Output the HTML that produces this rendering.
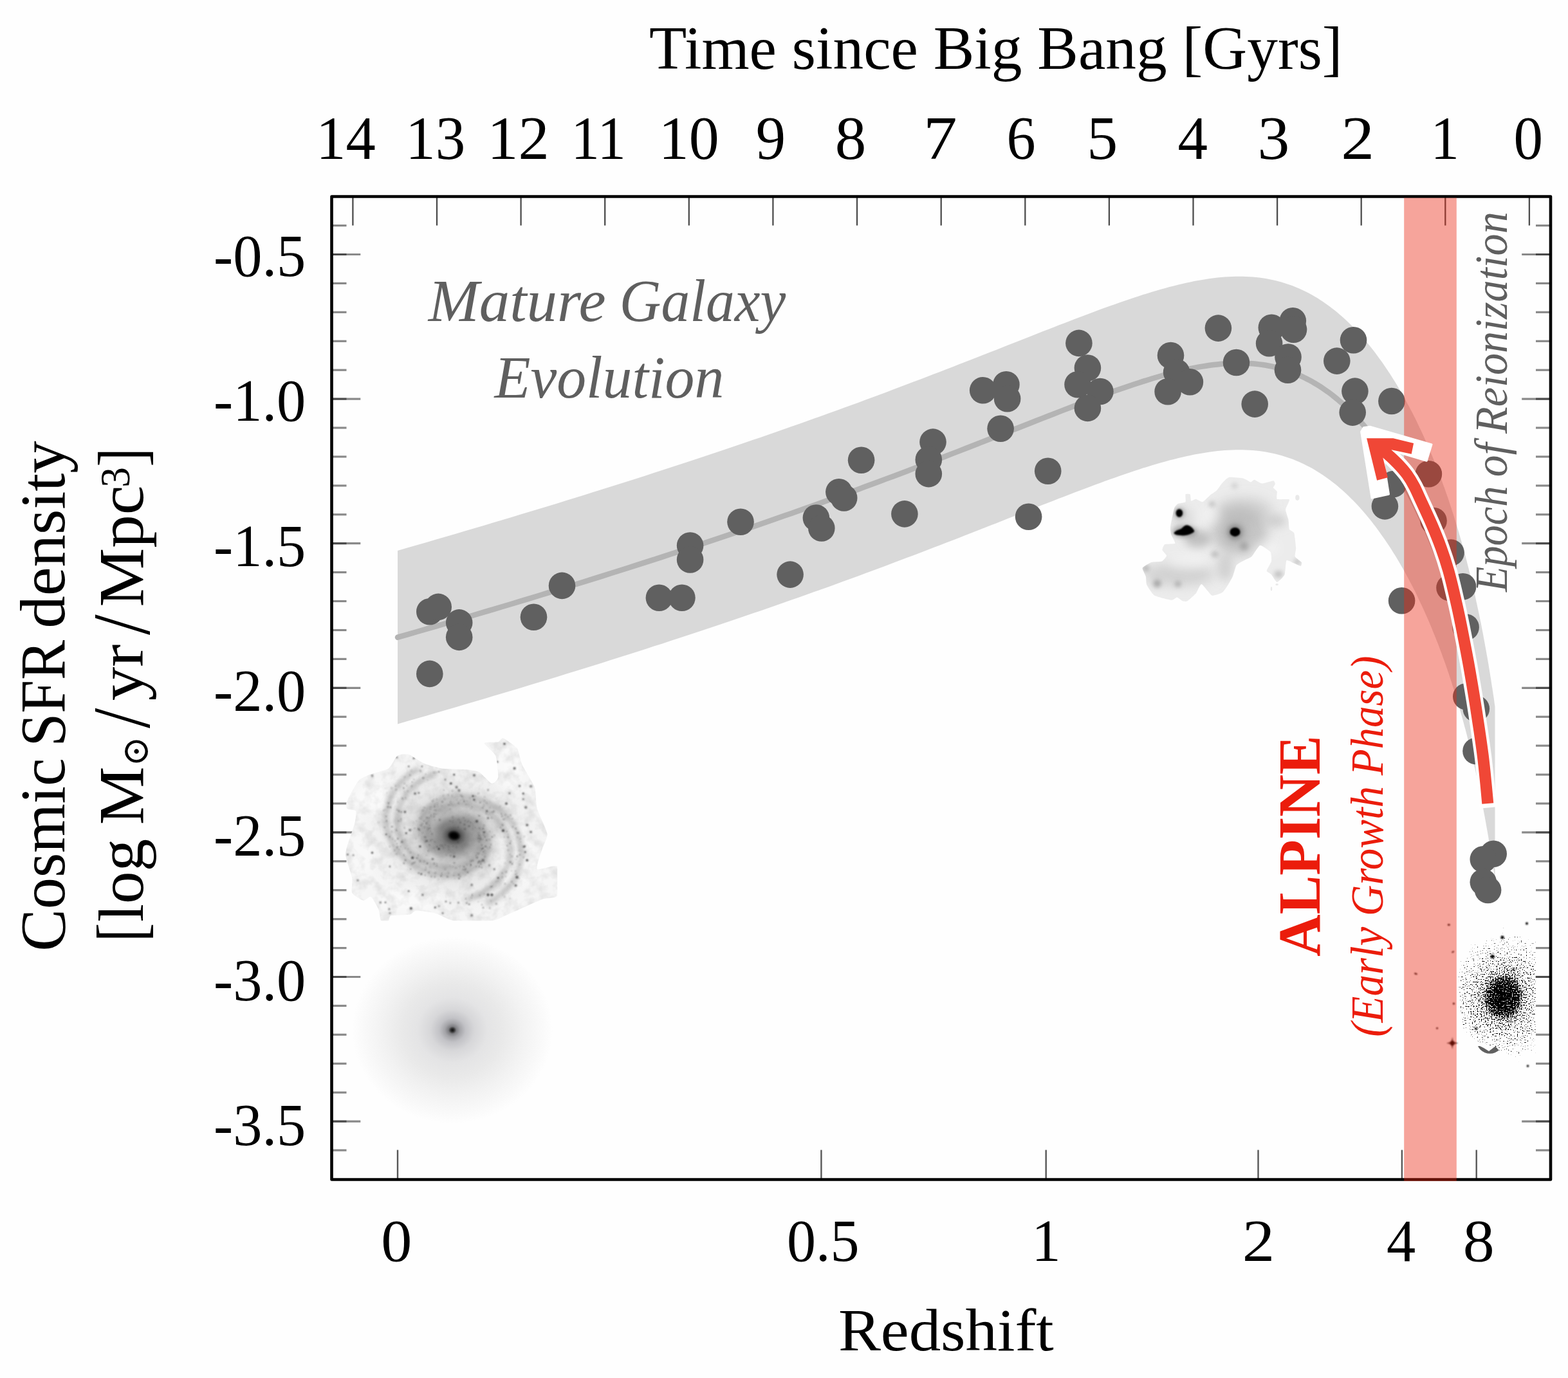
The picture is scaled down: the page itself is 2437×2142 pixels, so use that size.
<!DOCTYPE html>
<html lang="en"><head><meta charset="utf-8"><title>Cosmic SFR density</title>
<style>html,body{margin:0;padding:0;background:#fff;}svg{display:block}text{font-family:"Liberation Serif","DejaVu Serif",serif;}</style></head><body>
<svg width="2437" height="2142" viewBox="0 0 2437 2142">
<defs><clipPath id="spclip"><path d="M539.4,1245.2C541.1,1240.9 553.4,1218.0 557.0,1213.9C560.5,1209.8 569.9,1206.1 574.6,1204.1C579.3,1202.2 599.6,1197.3 603.9,1194.4C608.2,1191.4 614.5,1176.9 617.6,1174.8C620.8,1172.6 631.1,1171.7 635.2,1172.8C639.4,1174.0 653.6,1184.4 658.7,1186.5C663.8,1188.7 679.5,1193.4 686.1,1194.4C692.8,1195.3 719.4,1195.7 725.3,1196.3C731.1,1196.9 740.9,1198.1 744.8,1200.2C748.7,1202.4 761.5,1217.1 764.4,1217.8C767.3,1218.6 773.6,1212.4 774.2,1208.1C774.8,1203.8 772.4,1180.1 770.3,1174.8C768.1,1169.5 752.3,1157.4 752.7,1155.2C753.1,1153.1 771.3,1154.1 774.2,1153.3C777.1,1152.5 779.1,1146.4 782.0,1147.4C785.0,1148.4 800.6,1158.9 803.5,1163.1C806.5,1167.2 808.6,1182.4 811.4,1188.5C814.1,1194.6 828.6,1216.9 830.9,1223.7C833.3,1230.6 832.9,1249.7 834.9,1257.0C836.8,1264.2 849.7,1289.9 850.5,1296.1C851.3,1302.4 844.2,1314.1 842.7,1319.6C841.1,1325.1 832.5,1348.2 834.9,1350.9C837.2,1353.7 863.0,1342.9 866.2,1347.0C869.3,1351.1 868.5,1386.9 866.2,1392.0C863.8,1397.1 849.9,1395.1 842.7,1397.9C835.4,1400.6 801.6,1416.1 793.8,1419.4C785.9,1422.7 773.2,1430.0 764.4,1431.2C755.6,1432.3 714.5,1432.3 705.7,1431.2C696.9,1430.0 682.2,1421.0 676.3,1419.4C670.5,1417.8 650.9,1415.3 647.0,1415.5C643.1,1415.7 641.1,1420.6 637.2,1421.4C633.3,1422.2 611.2,1422.3 607.8,1423.3C604.5,1424.3 605.5,1430.4 603.9,1431.2C602.4,1431.9 593.8,1432.9 592.2,1431.2C590.6,1429.4 589.8,1417.3 588.3,1413.5C586.7,1409.8 578.9,1395.3 576.5,1394.0C574.2,1392.6 567.7,1400.4 564.8,1399.8C561.9,1399.3 548.9,1391.6 547.2,1388.1C545.4,1384.6 548.2,1370.3 547.2,1364.6C546.2,1358.9 538.2,1336.2 537.4,1331.4C536.6,1326.5 538.0,1320.8 539.4,1315.7C540.7,1310.6 549.7,1285.9 551.1,1280.5C552.5,1275.0 554.2,1263.2 553.1,1260.9C551.9,1258.6 540.7,1258.6 539.4,1257.0C538.0,1255.4 537.6,1249.5 539.4,1245.2Z"/></clipPath><clipPath id="sprect"><rect x="500" y="1140" width="366.2" height="291.3"/></clipPath><radialGradient id="spg" gradientUnits="userSpaceOnUse" cx="705.7" cy="1299.0" r="150" gradientTransform="translate(705.7,1299.0) rotate(12) scale(1,0.82) translate(-705.7,-1299.0)">
<stop offset="0" stop-color="#000"/><stop offset="0.03" stop-color="#111"/><stop offset="0.07" stop-color="#555"/><stop offset="0.13" stop-color="#828282"/><stop offset="0.2" stop-color="#9e9e9e"/><stop offset="0.27" stop-color="#b9b9b9"/><stop offset="0.36" stop-color="#d0d0d0"/><stop offset="0.5" stop-color="#e2e2e2"/><stop offset="0.7" stop-color="#eeeeee"/><stop offset="1" stop-color="#f5f5f5"/></radialGradient><filter id="bl1" x="-300%" y="-300%" width="700%" height="700%"><feGaussianBlur stdDeviation="1.1"/></filter><filter id="bl3" x="-300%" y="-300%" width="700%" height="700%"><feGaussianBlur stdDeviation="3.5"/></filter><filter id="bl6" x="-300%" y="-300%" width="700%" height="700%"><feGaussianBlur stdDeviation="7"/></filter><filter id="mot" x="0" y="0" width="100%" height="100%" color-interpolation-filters="sRGB"><feTurbulence type="fractalNoise" baseFrequency="0.06" numOctaves="3" seed="5"/><feColorMatrix type="matrix" values="0 0 0 0 0.25  0 0 0 0 0.25  0 0 0 0 0.25  1.6 0 0 0 -0.62"/></filter><radialGradient id="elg" gradientUnits="userSpaceOnUse" cx="703.2" cy="1601.2" r="156" gradientTransform="translate(703.2,1601.2) scale(1,0.93) translate(-703.2,-1601.2)">
<stop offset="0" stop-color="#111"/><stop offset="0.018" stop-color="#333"/><stop offset="0.04" stop-color="#808084"/><stop offset="0.075" stop-color="#a4a4a8"/><stop offset="0.13" stop-color="#c2c2c6"/><stop offset="0.22" stop-color="#d7d7d9"/><stop offset="0.35" stop-color="#e4e4e5"/><stop offset="0.5" stop-color="#e9e9e9"/><stop offset="0.7" stop-color="#f2f2f2"/><stop offset="0.88" stop-color="#f9f9f9"/><stop offset="1" stop-color="#fefefe"/></radialGradient><clipPath id="mgclip"><path d="M1775.7,882.9C1776.4,881.1 1787.1,875.0 1789.6,874.1C1792.1,873.3 1803.8,873.5 1805.8,872.6C1807.7,871.8 1813.1,865.3 1813.1,863.8C1813.2,862.4 1806.8,856.5 1806.5,855.0C1806.3,853.6 1808.5,847.1 1810.2,846.2C1811.8,845.4 1825.5,846.0 1826.3,844.8C1827.2,843.5 1821.1,833.6 1820.5,831.6C1819.8,829.5 1818.6,823.2 1819.0,819.8C1819.4,816.4 1823.9,793.5 1824.9,790.5C1825.8,787.4 1829.3,784.0 1830.7,783.1C1832.2,782.3 1841.5,781.4 1842.5,780.2C1843.4,779.0 1841.9,769.4 1842.5,768.4C1843.1,767.5 1849.1,767.6 1849.8,768.4C1850.5,769.3 1850.5,778.1 1851.3,778.7C1852.0,779.3 1857.1,775.7 1858.6,775.8C1860.1,775.9 1867.1,780.7 1868.9,780.2C1870.7,779.7 1878.8,771.4 1880.6,769.9C1882.5,768.4 1889.3,764.2 1890.9,762.6C1892.5,761.0 1898.1,752.5 1899.7,750.8C1901.3,749.1 1907.3,742.6 1910.0,742.0C1912.7,741.4 1929.2,742.9 1932.0,743.5C1934.8,744.1 1942.3,749.2 1943.7,749.4C1945.2,749.5 1948.2,745.5 1949.6,745.7C1951.1,745.9 1958.9,751.4 1961.4,751.6C1963.8,751.7 1977.3,747.1 1979.0,747.2C1980.7,747.2 1981.9,751.4 1981.9,752.3C1981.9,753.2 1978.7,757.2 1979.0,758.2C1979.2,759.1 1984.4,762.6 1984.8,764.0C1985.3,765.5 1983.3,774.7 1984.8,775.8C1986.4,776.8 2002.8,775.2 2003.9,776.5C2005.0,777.9 1998.2,789.3 1998.1,791.9C1997.9,794.6 2002.0,805.5 2002.5,808.1C2002.9,810.6 2003.2,821.0 2003.9,822.7C2004.7,824.5 2010.4,826.2 2011.3,828.6C2012.1,831.1 2014.1,849.0 2014.2,852.1C2014.3,855.2 2012.0,863.5 2012.7,865.3C2013.5,867.1 2022.3,872.9 2023.0,874.1C2023.7,875.3 2022.5,879.9 2021.5,880.0C2020.6,880.1 2013.1,876.3 2011.3,875.6C2009.4,874.9 2000.7,869.7 1999.5,871.2C1998.3,872.6 1997.8,890.4 1996.6,893.2C1995.4,896.0 1986.6,904.9 1984.8,904.9C1983.1,904.9 1977.4,894.7 1976.0,893.2C1974.7,891.7 1968.7,889.0 1968.7,887.3C1968.7,885.6 1975.5,875.1 1976.0,872.6C1976.5,870.2 1976.0,860.1 1974.6,858.0C1973.1,855.9 1960.9,847.1 1958.4,847.7C1956.0,848.3 1947.3,863.4 1945.2,865.3C1943.1,867.3 1935.4,870.1 1933.5,871.2C1931.5,872.3 1923.2,876.4 1921.7,878.5C1920.3,880.6 1917.0,893.6 1915.9,896.1C1914.8,898.7 1909.9,907.3 1908.5,909.3C1907.2,911.4 1901.8,919.7 1899.7,921.1C1897.6,922.4 1886.3,926.6 1883.6,925.5C1880.9,924.4 1869.5,908.1 1867.4,907.9C1865.3,907.6 1860.5,920.4 1858.6,922.6C1856.8,924.8 1847.1,933.3 1845.4,934.3C1843.7,935.3 1839.4,934.8 1838.1,934.3C1836.7,933.8 1830.7,928.5 1829.3,928.4C1827.8,928.3 1823.4,933.1 1820.5,932.8C1817.5,932.6 1797.2,927.4 1794.0,925.5C1790.9,923.5 1783.4,911.8 1782.3,909.3C1781.2,906.9 1781.4,898.3 1780.8,896.1C1780.3,893.9 1775.0,884.8 1775.7,882.9Z"/></clipPath><filter id="bl2" x="-300%" y="-300%" width="700%" height="700%"><feGaussianBlur stdDeviation="2"/></filter><filter id="bl9" x="-300%" y="-300%" width="700%" height="700%"><feGaussianBlur stdDeviation="9"/></filter><filter id="bl05" x="-300%" y="-300%" width="700%" height="700%"><feGaussianBlur stdDeviation="0.7"/></filter><radialGradient id="hzg" gradientUnits="userSpaceOnUse" cx="2336.7" cy="1550.2" r="108" gradientTransform="translate(2336.7,1550.2) rotate(8) scale(0.86,1) translate(-2336.7,-1550.2)">
<stop offset="0" stop-color="#000" stop-opacity="0.76"/><stop offset="0.17" stop-color="#000" stop-opacity="0.7"/><stop offset="0.25" stop-color="#000" stop-opacity="0.61"/><stop offset="0.34" stop-color="#000" stop-opacity="0.5"/><stop offset="0.46" stop-color="#000" stop-opacity="0.42"/><stop offset="0.66" stop-color="#000" stop-opacity="0.355"/><stop offset="0.88" stop-color="#000" stop-opacity="0.30"/><stop offset="1" stop-color="#000" stop-opacity="0.2"/></radialGradient><filter id="spk" x="0" y="0" width="100%" height="100%" color-interpolation-filters="sRGB">
<feTurbulence type="fractalNoise" baseFrequency="0.5" numOctaves="2" seed="11" result="n"/>
<feColorMatrix in="n" type="matrix" values="0 0 0 0 0  0 0 0 0 0  0 0 0 0 0  1 0 0 0 0" result="na"/>
<feComposite in="na" in2="SourceGraphic" operator="arithmetic" k1="0" k2="1" k3="1" k4="-1.0" result="s"/>
<feComponentTransfer in="s"><feFuncA type="linear" slope="11" intercept="0"/><feFuncR type="linear" slope="0" intercept="0"/><feFuncG type="linear" slope="0" intercept="0"/><feFuncB type="linear" slope="0" intercept="0"/></feComponentTransfer>
</filter><clipPath id="hzclip"><polygon points="2266,1500 2285,1470 2310,1445 2335,1430 2350,1445 2372,1432 2386.5,1425 2386.5,1665 2370,1660 2345,1640 2320,1628 2295,1620 2275,1600 2268,1560"/></clipPath></defs>
<rect x="0" y="0" width="2437" height="2142" fill="#fefefe"/>
<polygon points="618.0,855.9 633.1,851.6 648.1,847.3 663.1,842.9 678.0,838.6 692.8,834.3 707.6,829.9 722.4,825.6 737.0,821.3 751.6,816.9 766.2,812.6 780.7,808.3 795.1,804.0 809.4,799.6 823.7,795.3 837.9,791.0 852.1,786.7 866.1,782.4 880.1,778.1 894.1,773.8 908.0,769.4 921.8,765.1 935.5,760.8 949.1,756.5 962.7,752.3 976.2,748.0 989.7,743.7 1003.0,739.4 1016.3,735.1 1029.5,730.8 1042.6,726.6 1055.7,722.3 1068.7,718.0 1081.6,713.8 1094.4,709.5 1107.1,705.3 1119.8,701.0 1132.4,696.8 1144.9,692.6 1157.3,688.3 1169.6,684.1 1181.9,679.9 1194.0,675.7 1206.1,671.5 1218.1,667.3 1230.1,663.1 1241.9,658.9 1253.7,654.8 1265.3,650.6 1276.9,646.5 1288.4,642.3 1299.8,638.2 1311.2,634.1 1322.4,630.0 1333.6,625.9 1344.6,621.8 1355.6,617.7 1366.5,613.7 1377.3,609.7 1388.1,605.6 1398.7,601.6 1409.3,597.6 1419.7,593.6 1430.1,589.7 1440.4,585.8 1450.6,581.8 1460.8,577.9 1470.8,574.0 1480.8,570.2 1490.6,566.3 1500.4,562.5 1510.1,558.7 1519.7,555.0 1529.2,551.2 1538.7,547.5 1548.0,543.9 1557.3,540.2 1566.5,536.6 1575.6,533.0 1584.6,529.4 1593.5,525.9 1602.4,522.4 1611.1,519.0 1619.8,515.6 1628.4,512.2 1636.9,508.9 1645.4,505.6 1653.7,502.4 1662.0,499.2 1670.2,496.1 1678.3,493.0 1686.3,489.9 1694.3,486.9 1702.1,484.0 1709.9,481.1 1717.6,478.3 1725.3,475.6 1732.8,472.9 1740.3,470.2 1747.7,467.7 1755.0,465.2 1762.3,462.8 1769.4,460.4 1776.5,458.1 1783.6,455.9 1790.5,453.8 1797.4,451.7 1804.2,449.8 1810.9,447.9 1817.6,446.1 1824.2,444.4 1830.7,442.7 1837.2,441.2 1843.5,439.7 1849.8,438.4 1856.1,437.1 1862.3,436.0 1868.4,434.9 1874.4,433.9 1880.4,433.0 1886.3,432.3 1892.1,431.6 1897.9,431.0 1903.6,430.6 1909.3,430.2 1914.8,429.9 1920.4,429.8 1925.8,429.7 1931.2,429.8 1936.6,429.9 1941.9,430.2 1947.1,430.6 1952.2,431.0 1957.3,431.6 1962.4,432.3 1967.4,433.1 1972.3,434.0 1977.2,434.9 1982.0,436.0 1986.7,437.2 1991.5,438.5 1996.1,439.9 2000.7,441.4 2005.3,443.0 2009.7,444.6 2014.2,446.4 2018.6,448.2 2022.9,450.2 2027.2,452.2 2031.4,454.3 2035.6,456.5 2039.8,458.8 2043.9,461.2 2047.9,463.6 2051.9,466.2 2055.8,468.8 2059.7,471.4 2063.6,474.2 2067.4,477.0 2071.2,479.9 2074.9,482.8 2078.6,485.8 2082.2,488.9 2085.8,492.0 2089.4,495.2 2092.9,498.5 2096.3,501.8 2099.7,505.1 2103.1,508.5 2106.5,512.0 2109.8,515.5 2113.0,519.1 2116.3,522.7 2119.4,526.3 2122.6,530.0 2125.7,533.7 2128.8,537.5 2131.8,541.3 2134.8,545.1 2137.8,549.0 2140.7,552.9 2143.6,556.9 2146.4,560.8 2149.3,564.8 2152.1,568.9 2154.8,572.9 2157.5,577.0 2160.2,581.1 2162.9,585.2 2165.5,589.4 2168.1,593.6 2170.7,597.8 2173.2,602.0 2175.7,606.3 2178.1,610.5 2180.6,614.8 2183.0,619.1 2185.4,623.4 2187.7,627.7 2190.1,632.1 2192.3,636.5 2194.6,640.8 2196.9,645.2 2199.1,649.6 2201.3,654.0 2203.4,658.5 2205.5,662.9 2207.6,667.3 2209.7,671.8 2211.8,676.3 2213.8,680.8 2215.8,685.2 2217.8,689.7 2219.8,694.2 2221.7,698.8 2223.6,703.3 2225.5,707.8 2227.3,712.3 2229.2,716.9 2231.0,721.4 2232.8,726.0 2234.6,730.6 2236.3,735.1 2238.1,739.7 2239.8,744.3 2241.5,748.9 2243.1,753.4 2244.8,758.0 2246.4,762.6 2248.0,767.2 2249.6,771.8 2251.2,776.4 2252.7,781.0 2254.2,785.7 2255.8,790.3 2257.2,794.9 2258.7,799.5 2260.2,804.1 2261.6,808.8 2263.0,813.4 2264.4,818.0 2265.8,822.7 2267.2,827.3 2268.5,832.0 2269.9,836.6 2271.2,841.2 2272.5,845.9 2273.8,850.5 2275.1,855.2 2276.3,859.8 2277.6,864.5 2278.8,869.1 2280.0,873.8 2281.2,878.5 2282.4,883.1 2283.5,887.8 2284.7,892.4 2285.8,897.1 2286.9,901.8 2288.1,906.4 2289.1,911.1 2290.2,915.8 2291.3,920.4 2292.4,925.1 2293.4,929.8 2294.4,934.4 2295.4,939.1 2296.4,943.8 2297.4,948.4 2298.4,953.1 2299.4,957.8 2300.3,962.5 2301.3,967.1 2302.2,971.8 2303.1,976.5 2304.1,981.2 2305.0,985.8 2305.8,990.5 2306.7,995.2 2307.6,999.9 2308.4,1004.5 2309.3,1009.2 2310.1,1013.9 2310.9,1018.6 2311.8,1023.3 2312.6,1027.9 2313.4,1032.6 2314.1,1037.3 2314.9,1042.0 2315.7,1046.7 2316.4,1051.3 2317.2,1056.0 2317.9,1060.7 2318.6,1065.4 2319.4,1070.1 2320.1,1074.8 2320.8,1079.4 2321.5,1084.1 2322.2,1088.8 2322.8,1093.5 2323.5,1098.2 2323.5,1367.7 2322.8,1363.0 2322.2,1358.3 2321.5,1353.6 2320.8,1349.0 2320.1,1344.3 2319.4,1339.6 2318.6,1334.9 2317.9,1330.2 2317.2,1325.5 2316.4,1320.9 2315.7,1316.2 2314.9,1311.5 2314.1,1306.8 2313.4,1302.1 2312.6,1297.5 2311.8,1292.8 2310.9,1288.1 2310.1,1283.4 2309.3,1278.7 2308.4,1274.1 2307.6,1269.4 2306.7,1264.7 2305.8,1260.0 2305.0,1255.4 2304.1,1250.7 2303.1,1246.0 2302.2,1241.3 2301.3,1236.7 2300.3,1232.0 2299.4,1227.3 2298.4,1222.6 2297.4,1218.0 2296.4,1213.3 2295.4,1208.6 2294.4,1204.0 2293.4,1199.3 2292.4,1194.6 2291.3,1189.9 2290.2,1185.3 2289.1,1180.6 2288.1,1175.9 2286.9,1171.3 2285.8,1166.6 2284.7,1162.0 2283.5,1157.3 2282.4,1152.6 2281.2,1148.0 2280.0,1143.3 2278.8,1138.7 2277.6,1134.0 2276.3,1129.4 2275.1,1124.7 2273.8,1120.1 2272.5,1115.4 2271.2,1110.8 2269.9,1106.1 2268.5,1101.5 2267.2,1096.8 2265.8,1092.2 2264.4,1087.6 2263.0,1082.9 2261.6,1078.3 2260.2,1073.7 2258.7,1069.0 2257.2,1064.4 2255.8,1059.8 2254.2,1055.2 2252.7,1050.6 2251.2,1046.0 2249.6,1041.3 2248.0,1036.7 2246.4,1032.1 2244.8,1027.5 2243.1,1023.0 2241.5,1018.4 2239.8,1013.8 2238.1,1009.2 2236.3,1004.6 2234.6,1000.1 2232.8,995.5 2231.0,991.0 2229.2,986.4 2227.3,981.9 2225.5,977.3 2223.6,972.8 2221.7,968.3 2219.8,963.8 2217.8,959.3 2215.8,954.8 2213.8,950.3 2211.8,945.8 2209.7,941.3 2207.6,936.9 2205.5,932.4 2203.4,928.0 2201.3,923.6 2199.1,919.1 2196.9,914.7 2194.6,910.3 2192.3,906.0 2190.1,901.6 2187.7,897.3 2185.4,892.9 2183.0,888.6 2180.6,884.3 2178.1,880.0 2175.7,875.8 2173.2,871.5 2170.7,867.3 2168.1,863.1 2165.5,858.9 2162.9,854.8 2160.2,850.6 2157.5,846.5 2154.8,842.4 2152.1,838.4 2149.3,834.4 2146.4,830.4 2143.6,826.4 2140.7,822.4 2137.8,818.5 2134.8,814.7 2131.8,810.8 2128.8,807.0 2125.7,803.2 2122.6,799.5 2119.4,795.8 2116.3,792.2 2113.0,788.6 2109.8,785.0 2106.5,781.5 2103.1,778.1 2099.7,774.7 2096.3,771.3 2092.9,768.0 2089.4,764.7 2085.8,761.6 2082.2,758.4 2078.6,755.3 2074.9,752.3 2071.2,749.4 2067.4,746.5 2063.6,743.7 2059.7,740.9 2055.8,738.3 2051.9,735.7 2047.9,733.2 2043.9,730.7 2039.8,728.3 2035.6,726.1 2031.4,723.9 2027.2,721.7 2022.9,719.7 2018.6,717.8 2014.2,715.9 2009.7,714.1 2005.3,712.5 2000.7,710.9 1996.1,709.4 1991.5,708.0 1986.7,706.7 1982.0,705.6 1977.2,704.5 1972.3,703.5 1967.4,702.6 1962.4,701.8 1957.3,701.1 1952.2,700.6 1947.1,700.1 1941.9,699.7 1936.6,699.5 1931.2,699.3 1925.8,699.2 1920.4,699.3 1914.8,699.5 1909.3,699.7 1903.6,700.1 1897.9,700.5 1892.1,701.1 1886.3,701.8 1880.4,702.6 1874.4,703.4 1868.4,704.4 1862.3,705.5 1856.1,706.6 1849.8,707.9 1843.5,709.3 1837.2,710.7 1830.7,712.3 1824.2,713.9 1817.6,715.6 1810.9,717.4 1804.2,719.3 1797.4,721.3 1790.5,723.3 1783.6,725.4 1776.5,727.6 1769.4,729.9 1762.3,732.3 1755.0,734.7 1747.7,737.2 1740.3,739.8 1732.8,742.4 1725.3,745.1 1717.6,747.8 1709.9,750.7 1702.1,753.5 1694.3,756.5 1686.3,759.4 1678.3,762.5 1670.2,765.6 1662.0,768.7 1653.7,771.9 1645.4,775.1 1636.9,778.4 1628.4,781.7 1619.8,785.1 1611.1,788.5 1602.4,792.0 1593.5,795.4 1584.6,799.0 1575.6,802.5 1566.5,806.1 1557.3,809.7 1548.0,813.4 1538.7,817.1 1529.2,820.8 1519.7,824.5 1510.1,828.3 1500.4,832.1 1490.6,835.9 1480.8,839.7 1470.8,843.6 1460.8,847.4 1450.6,851.3 1440.4,855.3 1430.1,859.2 1419.7,863.2 1409.3,867.1 1398.7,871.1 1388.1,875.1 1377.3,879.2 1366.5,883.2 1355.6,887.3 1344.6,891.3 1333.6,895.4 1322.4,899.5 1311.2,903.6 1299.8,907.7 1288.4,911.9 1276.9,916.0 1265.3,920.1 1253.7,924.3 1241.9,928.5 1230.1,932.6 1218.1,936.8 1206.1,941.0 1194.0,945.2 1181.9,949.4 1169.6,953.6 1157.3,957.8 1144.9,962.1 1132.4,966.3 1119.8,970.5 1107.1,974.8 1094.4,979.0 1081.6,983.3 1068.7,987.5 1055.7,991.8 1042.6,996.1 1029.5,1000.4 1016.3,1004.6 1003.0,1008.9 989.7,1013.2 976.2,1017.5 962.7,1021.8 949.1,1026.1 935.5,1030.4 921.8,1034.7 908.0,1039.0 894.1,1043.3 880.1,1047.6 866.1,1051.9 852.1,1056.2 837.9,1060.5 823.7,1064.8 809.4,1069.2 795.1,1073.5 780.7,1077.8 766.2,1082.1 751.6,1086.5 737.0,1090.8 722.4,1095.1 707.6,1099.4 692.8,1103.8 678.0,1108.1 663.1,1112.4 648.1,1116.8 633.1,1121.1 618.0,1125.5" fill="#d9d9d9"/>
<polyline points="618.0,990.7 633.1,986.4 648.1,982.0 663.1,977.7 678.0,973.4 692.8,969.0 707.6,964.7 722.4,960.4 737.0,956.0 751.6,951.7 766.2,947.4 780.7,943.0 795.1,938.7 809.4,934.4 823.7,930.1 837.9,925.8 852.1,921.4 866.1,917.1 880.1,912.8 894.1,908.5 908.0,904.2 921.8,899.9 935.5,895.6 949.1,891.3 962.7,887.0 976.2,882.7 989.7,878.4 1003.0,874.1 1016.3,869.9 1029.5,865.6 1042.6,861.3 1055.7,857.1 1068.7,852.8 1081.6,848.5 1094.4,844.3 1107.1,840.0 1119.8,835.8 1132.4,831.5 1144.9,827.3 1157.3,823.1 1169.6,818.9 1181.9,814.7 1194.0,810.4 1206.1,806.2 1218.1,802.1 1230.1,797.9 1241.9,793.7 1253.7,789.5 1265.3,785.4 1276.9,781.2 1288.4,777.1 1299.8,773.0 1311.2,768.9 1322.4,764.7 1333.6,760.7 1344.6,756.6 1355.6,752.5 1366.5,748.5 1377.3,744.4 1388.1,740.4 1398.7,736.4 1409.3,732.4 1419.7,728.4 1430.1,724.5 1440.4,720.5 1450.6,716.6 1460.8,712.7 1470.8,708.8 1480.8,704.9 1490.6,701.1 1500.4,697.3 1510.1,693.5 1519.7,689.7 1529.2,686.0 1538.7,682.3 1548.0,678.6 1557.3,675.0 1566.5,671.3 1575.6,667.8 1584.6,664.2 1593.5,660.7 1602.4,657.2 1611.1,653.8 1619.8,650.4 1628.4,647.0 1636.9,643.7 1645.4,640.4 1653.7,637.1 1662.0,634.0 1670.2,630.8 1678.3,627.7 1686.3,624.7 1694.3,621.7 1702.1,618.8 1709.9,615.9 1717.6,613.1 1725.3,610.3 1732.8,607.6 1740.3,605.0 1747.7,602.4 1755.0,599.9 1762.3,597.5 1769.4,595.2 1776.5,592.9 1783.6,590.7 1790.5,588.5 1797.4,586.5 1804.2,584.5 1810.9,582.6 1817.6,580.8 1824.2,579.1 1830.7,577.5 1837.2,576.0 1843.5,574.5 1849.8,573.1 1856.1,571.9 1862.3,570.7 1868.4,569.6 1874.4,568.7 1880.4,567.8 1886.3,567.0 1892.1,566.4 1897.9,565.8 1903.6,565.3 1909.3,565.0 1914.8,564.7 1920.4,564.5 1925.8,564.5 1931.2,564.5 1936.6,564.7 1941.9,565.0 1947.1,565.3 1952.2,565.8 1957.3,566.4 1962.4,567.0 1967.4,567.8 1972.3,568.7 1977.2,569.7 1982.0,570.8 1986.7,572.0 1991.5,573.3 1996.1,574.7 2000.7,576.1 2005.3,577.7 2009.7,579.4 2014.2,581.1 2018.6,583.0 2022.9,584.9 2027.2,587.0 2031.4,589.1 2035.6,591.3 2039.8,593.6 2043.9,596.0 2047.9,598.4 2051.9,600.9 2055.8,603.5 2059.7,606.2 2063.6,608.9 2067.4,611.7 2071.2,614.6 2074.9,617.6 2078.6,620.6 2082.2,623.7 2085.8,626.8 2089.4,630.0 2092.9,633.2 2096.3,636.5 2099.7,639.9 2103.1,643.3 2106.5,646.8 2109.8,650.3 2113.0,653.8 2116.3,657.4 2119.4,661.1 2122.6,664.8 2125.7,668.5 2128.8,672.3 2131.8,676.1 2134.8,679.9 2137.8,683.8 2140.7,687.7 2143.6,691.6 2146.4,695.6 2149.3,699.6 2152.1,703.6 2154.8,707.7 2157.5,711.8 2160.2,715.9 2162.9,720.0 2165.5,724.2 2168.1,728.3 2170.7,732.6 2173.2,736.8 2175.7,741.0 2178.1,745.3 2180.6,749.6 2183.0,753.9 2185.4,758.2 2187.7,762.5 2190.1,766.9 2192.3,771.2 2194.6,775.6 2196.9,780.0 2199.1,784.4 2201.3,788.8 2203.4,793.2 2205.5,797.7 2207.6,802.1 2209.7,806.6 2211.8,811.0 2213.8,815.5 2215.8,820.0 2217.8,824.5 2219.8,829.0 2221.7,833.5 2223.6,838.0 2225.5,842.6 2227.3,847.1 2229.2,851.6 2231.0,856.2 2232.8,860.8 2234.6,865.3 2236.3,869.9 2238.1,874.5 2239.8,879.0 2241.5,883.6 2243.1,888.2 2244.8,892.8 2246.4,897.4 2248.0,902.0 2249.6,906.6 2251.2,911.2 2252.7,915.8 2254.2,920.4 2255.8,925.0 2257.2,929.7 2258.7,934.3 2260.2,938.9 2261.6,943.5 2263.0,948.2 2264.4,952.8 2265.8,957.4 2267.2,962.1 2268.5,966.7 2269.9,971.4 2271.2,976.0 2272.5,980.6 2273.8,985.3 2275.1,989.9 2276.3,994.6 2277.6,999.2 2278.8,1003.9 2280.0,1008.6 2281.2,1013.2 2282.4,1017.9 2283.5,1022.5 2284.7,1027.2 2285.8,1031.9 2286.9,1036.5 2288.1,1041.2 2289.1,1045.9 2290.2,1050.5 2291.3,1055.2 2292.4,1059.9 2293.4,1064.5 2294.4,1069.2 2295.4,1073.9 2296.4,1078.5 2297.4,1083.2 2298.4,1087.9" fill="none" stroke="#b4b4b4" stroke-width="8.5" stroke-linecap="round" stroke-linejoin="round"/>
<g fill="#606060"><circle cx="667.8" cy="950.7" r="20.8"/><circle cx="681.2" cy="943.4" r="20.8"/><circle cx="713.7" cy="967.9" r="20.8"/><circle cx="713.7" cy="990.4" r="20.8"/><circle cx="667.8" cy="1047.4" r="20.8"/><circle cx="829.5" cy="959.3" r="20.8"/><circle cx="873.5" cy="910.4" r="20.8"/><circle cx="1024.4" cy="929.2" r="20.8"/><circle cx="1059.9" cy="929.2" r="20.8"/><circle cx="1072.6" cy="848.0" r="20.8"/><circle cx="1072.6" cy="870.0" r="20.8"/><circle cx="1151.0" cy="811.2" r="20.8"/><circle cx="1228.1" cy="893.1" r="20.8"/><circle cx="1268.4" cy="805.0" r="20.8"/><circle cx="1276.8" cy="821.0" r="20.8"/><circle cx="1303.9" cy="764.7" r="20.8"/><circle cx="1311.7" cy="774.0" r="20.8"/><circle cx="1338.6" cy="715.3" r="20.8"/><circle cx="1405.9" cy="798.9" r="20.8"/><circle cx="1450.0" cy="687.1" r="20.8"/><circle cx="1443.3" cy="714.5" r="20.8"/><circle cx="1443.3" cy="736.6" r="20.8"/><circle cx="1527.7" cy="606.8" r="20.8"/><circle cx="1563.9" cy="597.7" r="20.8"/><circle cx="1565.6" cy="619.7" r="20.8"/><circle cx="1555.1" cy="666.2" r="20.8"/><circle cx="1628.7" cy="732.3" r="20.8"/><circle cx="1598.6" cy="803.2" r="20.8"/><circle cx="1676.9" cy="533.4" r="20.8"/><circle cx="1690.4" cy="572.0" r="20.8"/><circle cx="1675.0" cy="597.7" r="20.8"/><circle cx="1709.9" cy="608.5" r="20.8"/><circle cx="1690.4" cy="634.4" r="20.8"/><circle cx="1819.5" cy="552.5" r="20.8"/><circle cx="1828.6" cy="578.6" r="20.8"/><circle cx="1849.4" cy="593.8" r="20.8"/><circle cx="1815.1" cy="608.7" r="20.8"/><circle cx="1893.4" cy="510.1" r="20.8"/><circle cx="1921.5" cy="563.5" r="20.8"/><circle cx="1950.2" cy="628.1" r="20.8"/><circle cx="1976.3" cy="509.2" r="20.8"/><circle cx="1972.6" cy="533.7" r="20.8"/><circle cx="2009.3" cy="498.7" r="20.8"/><circle cx="2010.5" cy="512.2" r="20.8"/><circle cx="2002.0" cy="555.0" r="20.8"/><circle cx="2001.5" cy="575.3" r="20.8"/><circle cx="2103.5" cy="528.8" r="20.8"/><circle cx="2077.8" cy="561.1" r="20.8"/><circle cx="2105.9" cy="608.1" r="20.8"/><circle cx="2102.2" cy="641.1" r="20.8"/><circle cx="2162.9" cy="623.5" r="20.8"/><circle cx="2220.4" cy="736.7" r="20.8"/><circle cx="2152.4" cy="786.9" r="20.8"/><circle cx="2165.5" cy="752.6" r="20.8"/><circle cx="2228.0" cy="809.5" r="20.8"/><circle cx="2178.6" cy="933.7" r="20.8"/><circle cx="2255.1" cy="859.1" r="20.8"/><circle cx="2253.0" cy="913.6" r="20.8"/><circle cx="2273.6" cy="911.8" r="20.8"/><circle cx="2278.1" cy="975.0" r="20.8"/><circle cx="2278.8" cy="1082.8" r="20.8"/><circle cx="2294.3" cy="1101.8" r="20.8"/><circle cx="2294.0" cy="1167.5" r="20.8"/><circle cx="2321.2" cy="1327.2" r="20.8"/><circle cx="2305.3" cy="1335.8" r="20.8"/><circle cx="2305.3" cy="1371.2" r="20.8"/><circle cx="2312.6" cy="1383.5" r="20.8"/><circle cx="2315.7" cy="1617.0" r="20.8"/></g>
<g stroke="#000" stroke-opacity="0.7" stroke-width="2.3"><line x1="2376.9" y1="305.5" x2="2376.9" y2="350.5"/><line x1="2246.3" y1="305.5" x2="2246.3" y2="350.5"/><line x1="2115.7" y1="305.5" x2="2115.7" y2="350.5"/><line x1="1985.1" y1="305.5" x2="1985.1" y2="350.5"/><line x1="1854.5" y1="305.5" x2="1854.5" y2="350.5"/><line x1="1723.9" y1="305.5" x2="1723.9" y2="350.5"/><line x1="1593.3" y1="305.5" x2="1593.3" y2="350.5"/><line x1="1462.7" y1="305.5" x2="1462.7" y2="350.5"/><line x1="1332.0" y1="305.5" x2="1332.0" y2="350.5"/><line x1="1201.4" y1="305.5" x2="1201.4" y2="350.5"/><line x1="1070.8" y1="305.5" x2="1070.8" y2="350.5"/><line x1="940.2" y1="305.5" x2="940.2" y2="350.5"/><line x1="809.6" y1="305.5" x2="809.6" y2="350.5"/><line x1="679.0" y1="305.5" x2="679.0" y2="350.5"/><line x1="548.4" y1="305.5" x2="548.4" y2="350.5"/></g>
<g stroke="#000" stroke-opacity="0.66" stroke-width="2.4"><line x1="618.0" y1="1787.5" x2="618.0" y2="1833.5"/><line x1="1276.4" y1="1787.5" x2="1276.4" y2="1833.5"/><line x1="1625.7" y1="1787.5" x2="1625.7" y2="1833.5"/><line x1="1955.5" y1="1787.5" x2="1955.5" y2="1833.5"/><line x1="2178.9" y1="1787.5" x2="2178.9" y2="1833.5"/><line x1="2294.7" y1="1787.5" x2="2294.7" y2="1833.5"/></g>
<g stroke="#000" stroke-opacity="0.46" stroke-width="3.2"><line x1="515.5" y1="350.6" x2="538.5" y2="350.6"/><line x1="2410.0" y1="350.6" x2="2387" y2="350.6"/><line x1="515.5" y1="395.5" x2="538.5" y2="395.5"/><line x1="2410.0" y1="395.5" x2="2387" y2="395.5"/><line x1="515.5" y1="395.5" x2="560.3" y2="395.5"/><line x1="2410.0" y1="395.5" x2="2365.2" y2="395.5"/><line x1="515.5" y1="440.4" x2="538.5" y2="440.4"/><line x1="2410.0" y1="440.4" x2="2387" y2="440.4"/><line x1="515.5" y1="485.3" x2="538.5" y2="485.3"/><line x1="2410.0" y1="485.3" x2="2387" y2="485.3"/><line x1="515.5" y1="530.3" x2="538.5" y2="530.3"/><line x1="2410.0" y1="530.3" x2="2387" y2="530.3"/><line x1="515.5" y1="575.2" x2="538.5" y2="575.2"/><line x1="2410.0" y1="575.2" x2="2387" y2="575.2"/><line x1="515.5" y1="620.1" x2="538.5" y2="620.1"/><line x1="2410.0" y1="620.1" x2="2387" y2="620.1"/><line x1="515.5" y1="620.1" x2="560.3" y2="620.1"/><line x1="2410.0" y1="620.1" x2="2365.2" y2="620.1"/><line x1="515.5" y1="665.0" x2="538.5" y2="665.0"/><line x1="2410.0" y1="665.0" x2="2387" y2="665.0"/><line x1="515.5" y1="709.9" x2="538.5" y2="709.9"/><line x1="2410.0" y1="709.9" x2="2387" y2="709.9"/><line x1="515.5" y1="754.9" x2="538.5" y2="754.9"/><line x1="2410.0" y1="754.9" x2="2387" y2="754.9"/><line x1="515.5" y1="799.8" x2="538.5" y2="799.8"/><line x1="2410.0" y1="799.8" x2="2387" y2="799.8"/><line x1="515.5" y1="844.7" x2="538.5" y2="844.7"/><line x1="2410.0" y1="844.7" x2="2387" y2="844.7"/><line x1="515.5" y1="844.7" x2="560.3" y2="844.7"/><line x1="2410.0" y1="844.7" x2="2365.2" y2="844.7"/><line x1="515.5" y1="889.6" x2="538.5" y2="889.6"/><line x1="2410.0" y1="889.6" x2="2387" y2="889.6"/><line x1="515.5" y1="934.5" x2="538.5" y2="934.5"/><line x1="2410.0" y1="934.5" x2="2387" y2="934.5"/><line x1="515.5" y1="979.5" x2="538.5" y2="979.5"/><line x1="2410.0" y1="979.5" x2="2387" y2="979.5"/><line x1="515.5" y1="1024.4" x2="538.5" y2="1024.4"/><line x1="2410.0" y1="1024.4" x2="2387" y2="1024.4"/><line x1="515.5" y1="1069.3" x2="538.5" y2="1069.3"/><line x1="2410.0" y1="1069.3" x2="2387" y2="1069.3"/><line x1="515.5" y1="1069.3" x2="560.3" y2="1069.3"/><line x1="2410.0" y1="1069.3" x2="2365.2" y2="1069.3"/><line x1="515.5" y1="1114.2" x2="538.5" y2="1114.2"/><line x1="2410.0" y1="1114.2" x2="2387" y2="1114.2"/><line x1="515.5" y1="1159.1" x2="538.5" y2="1159.1"/><line x1="2410.0" y1="1159.1" x2="2387" y2="1159.1"/><line x1="515.5" y1="1204.1" x2="538.5" y2="1204.1"/><line x1="2410.0" y1="1204.1" x2="2387" y2="1204.1"/><line x1="515.5" y1="1249.0" x2="538.5" y2="1249.0"/><line x1="2410.0" y1="1249.0" x2="2387" y2="1249.0"/><line x1="515.5" y1="1293.9" x2="538.5" y2="1293.9"/><line x1="2410.0" y1="1293.9" x2="2387" y2="1293.9"/><line x1="515.5" y1="1293.9" x2="560.3" y2="1293.9"/><line x1="2410.0" y1="1293.9" x2="2365.2" y2="1293.9"/><line x1="515.5" y1="1338.8" x2="538.5" y2="1338.8"/><line x1="2410.0" y1="1338.8" x2="2387" y2="1338.8"/><line x1="515.5" y1="1383.7" x2="538.5" y2="1383.7"/><line x1="2410.0" y1="1383.7" x2="2387" y2="1383.7"/><line x1="515.5" y1="1428.7" x2="538.5" y2="1428.7"/><line x1="2410.0" y1="1428.7" x2="2387" y2="1428.7"/><line x1="515.5" y1="1473.6" x2="538.5" y2="1473.6"/><line x1="2410.0" y1="1473.6" x2="2387" y2="1473.6"/><line x1="515.5" y1="1518.5" x2="538.5" y2="1518.5"/><line x1="2410.0" y1="1518.5" x2="2387" y2="1518.5"/><line x1="515.5" y1="1518.5" x2="560.3" y2="1518.5"/><line x1="2410.0" y1="1518.5" x2="2365.2" y2="1518.5"/><line x1="515.5" y1="1563.4" x2="538.5" y2="1563.4"/><line x1="2410.0" y1="1563.4" x2="2387" y2="1563.4"/><line x1="515.5" y1="1608.3" x2="538.5" y2="1608.3"/><line x1="2410.0" y1="1608.3" x2="2387" y2="1608.3"/><line x1="515.5" y1="1653.3" x2="538.5" y2="1653.3"/><line x1="2410.0" y1="1653.3" x2="2387" y2="1653.3"/><line x1="515.5" y1="1698.2" x2="538.5" y2="1698.2"/><line x1="2410.0" y1="1698.2" x2="2387" y2="1698.2"/><line x1="515.5" y1="1743.1" x2="538.5" y2="1743.1"/><line x1="2410.0" y1="1743.1" x2="2387" y2="1743.1"/><line x1="515.5" y1="1743.1" x2="560.3" y2="1743.1"/><line x1="2410.0" y1="1743.1" x2="2365.2" y2="1743.1"/><line x1="515.5" y1="1788.0" x2="538.5" y2="1788.0"/><line x1="2410.0" y1="1788.0" x2="2387" y2="1788.0"/></g>
<rect x="515.5" y="305.5" width="1894.5" height="1528.0" fill="none" stroke="#000" stroke-width="4.6" stroke-linejoin="round"/>
<g clip-path="url(#sprect)"><g clip-path="url(#spclip)"><rect x="500" y="1130" width="380" height="310" fill="url(#spg)"/><ellipse cx="590" cy="1240" rx="40" ry="22" fill="#fff" fill-opacity="0.55" filter="url(#bl6)"/><ellipse cx="800" cy="1330" rx="34" ry="50" fill="#fff" fill-opacity="0.5" filter="url(#bl6)"/><ellipse cx="640" cy="1400" rx="50" ry="16" fill="#fff" fill-opacity="0.5" filter="url(#bl6)"/><ellipse cx="790" cy="1190" rx="22" ry="40" fill="#fff" fill-opacity="0.45" filter="url(#bl6)"/><ellipse cx="560" cy="1330" rx="22" ry="30" fill="#fff" fill-opacity="0.35" filter="url(#bl6)"/><polyline points="725.1,1308.6 723.8,1311.7 721.7,1314.7 718.8,1317.4 715.3,1319.6 711.0,1321.4 706.2,1322.4 701.0,1322.8 695.4,1322.3 689.8,1321.0 684.2,1318.7 678.9,1315.6 674.0,1311.6 669.9,1306.8 666.6,1301.2 664.5,1295.2 663.7,1288.7 664.2,1282.0 666.3,1275.3 670.0,1268.9 675.3,1263.0 682.1,1257.8 690.4,1253.7 699.9,1250.8 710.5,1249.3 721.9,1249.5 733.7,1251.5 745.5,1255.4 756.9,1261.1 767.6,1268.7 776.9,1278.0 784.6,1288.9 790.2,1301.1 793.2,1314.4 793.4,1328.2 790.4,1342.3 784.2,1356.0 774.7,1368.9 761.9,1380.5 745.9,1390.2 727.1,1397.5" fill="none" stroke="#6a6a6a" stroke-opacity="0.34" stroke-width="8" filter="url(#bl3)"/><polyline points="685.9,1290.1 687.0,1286.9 689.0,1283.8 691.7,1281.0 695.2,1278.6 699.3,1276.8 704.0,1275.5 709.2,1275.0 714.8,1275.3 720.5,1276.4 726.1,1278.5 731.6,1281.4 736.6,1285.3 741.0,1290.0 744.5,1295.4 746.9,1301.4 748.1,1307.9 747.8,1314.6 746.1,1321.4 742.7,1327.9 737.8,1334.1 731.2,1339.5 723.2,1343.9 713.8,1347.1 703.4,1349.0 692.1,1349.1 680.2,1347.6 668.3,1344.1 656.6,1338.8 645.6,1331.6 635.8,1322.5 627.6,1311.9 621.5,1299.8 617.8,1286.6 617.0,1272.7 619.2,1258.6 624.6,1244.6 633.5,1231.3 645.7,1219.3 661.1,1209.0 679.5,1201.0" fill="none" stroke="#6a6a6a" stroke-opacity="0.34" stroke-width="8" filter="url(#bl3)"/><polyline points="690.2,1328.4 684.7,1326.8 679.3,1324.6 674.1,1321.7 669.2,1318.2 664.8,1314.0 660.9,1309.3 657.7,1304.1 655.2,1298.5 653.7,1292.5 653.1,1286.3 653.5,1280.0 655.1,1273.6 657.8,1267.4 661.6,1261.4 666.5,1255.8 672.6,1250.8 679.7,1246.4 687.8,1242.8 696.7,1240.2 706.4,1238.6 716.7,1238.1 727.4,1238.8 738.4,1240.8 749.3,1244.1 760.1,1248.7 770.4,1254.7 780.0,1261.9 788.7,1270.4 796.2,1279.9 802.4,1290.4 807.0,1301.8 809.8,1313.8 810.7,1326.3 809.5,1338.9 806.1,1351.6 800.4,1364.0 792.4,1375.8 782.2,1386.8 769.8,1396.7 755.3,1405.2" fill="none" stroke="#6a6a6a" stroke-opacity="0.34" stroke-width="8" filter="url(#bl3)"/><polyline points="719.7,1269.0 725.2,1270.4 730.7,1272.4 736.1,1275.2 741.1,1278.5 745.7,1282.5 749.8,1287.1 753.3,1292.2 756.0,1297.8 757.8,1303.7 758.7,1309.9 758.6,1316.3 757.4,1322.7 755.0,1329.0 751.5,1335.2 746.9,1340.9 741.1,1346.2 734.2,1350.8 726.4,1354.7 717.6,1357.7 708.0,1359.6 697.8,1360.5 687.1,1360.1 676.1,1358.5 665.0,1355.5 654.1,1351.3 643.5,1345.7 633.6,1338.8 624.5,1330.6 616.5,1321.3 609.8,1311.0 604.7,1299.7 601.3,1287.8 599.8,1275.3 600.4,1262.6 603.1,1249.8 608.2,1237.2 615.5,1225.0 625.1,1213.7 637.0,1203.3 651.0,1194.3" fill="none" stroke="#6a6a6a" stroke-opacity="0.34" stroke-width="8" filter="url(#bl3)"/><rect x="520" y="1140" width="350" height="295" filter="url(#mot)" opacity="0.14"/><g fill="#333" filter="url(#bl1)"><circle cx="616.7" cy="1177.3" r="1.6" fill-opacity="0.50"/><circle cx="578.5" cy="1205.7" r="2.0" fill-opacity="0.48"/><circle cx="643.1" cy="1178.7" r="1.8" fill-opacity="0.58"/><circle cx="635.2" cy="1191.4" r="1.4" fill-opacity="0.63"/><circle cx="655.8" cy="1191.4" r="1.3" fill-opacity="0.60"/><circle cx="682.2" cy="1199.8" r="1.4" fill-opacity="0.48"/><circle cx="705.7" cy="1204.1" r="1.7" fill-opacity="0.74"/><circle cx="692.0" cy="1212.0" r="1.4" fill-opacity="0.53"/><circle cx="700.8" cy="1217.8" r="1.9" fill-opacity="0.78"/><circle cx="709.6" cy="1223.7" r="1.9" fill-opacity="0.59"/><circle cx="713.5" cy="1228.6" r="2.3" fill-opacity="0.47"/><circle cx="737.0" cy="1205.1" r="2.2" fill-opacity="0.55"/><circle cx="758.5" cy="1228.0" r="1.4" fill-opacity="0.49"/><circle cx="735.0" cy="1237.4" r="1.6" fill-opacity="0.74"/><circle cx="737.0" cy="1243.3" r="1.5" fill-opacity="0.65"/><circle cx="645.0" cy="1233.5" r="1.9" fill-opacity="0.58"/><circle cx="650.9" cy="1232.5" r="1.8" fill-opacity="0.47"/><circle cx="606.9" cy="1255.0" r="1.4" fill-opacity="0.52"/><circle cx="629.4" cy="1261.9" r="2.0" fill-opacity="0.60"/><circle cx="756.6" cy="1260.9" r="1.6" fill-opacity="0.65"/><circle cx="758.5" cy="1271.7" r="1.8" fill-opacity="0.55"/><circle cx="799.6" cy="1194.4" r="2.1" fill-opacity="0.69"/><circle cx="773.2" cy="1184.2" r="1.5" fill-opacity="0.65"/><circle cx="784.0" cy="1156.2" r="1.8" fill-opacity="0.76"/><circle cx="807.5" cy="1221.8" r="2.0" fill-opacity="0.55"/><circle cx="825.1" cy="1222.2" r="2.3" fill-opacity="0.49"/><circle cx="813.3" cy="1233.5" r="1.7" fill-opacity="0.71"/><circle cx="791.8" cy="1233.1" r="1.5" fill-opacity="0.62"/><circle cx="813.3" cy="1242.3" r="1.3" fill-opacity="0.68"/><circle cx="786.9" cy="1249.2" r="2.1" fill-opacity="0.65"/><circle cx="817.2" cy="1255.0" r="2.2" fill-opacity="0.56"/><circle cx="819.2" cy="1282.4" r="2.0" fill-opacity="0.66"/><circle cx="825.1" cy="1293.2" r="1.9" fill-opacity="0.61"/><circle cx="782.0" cy="1291.2" r="2.1" fill-opacity="0.78"/><circle cx="815.3" cy="1315.7" r="1.8" fill-opacity="0.68"/><circle cx="816.3" cy="1324.5" r="1.4" fill-opacity="0.70"/><circle cx="819.2" cy="1337.2" r="1.9" fill-opacity="0.80"/><circle cx="637.2" cy="1290.3" r="2.1" fill-opacity="0.55"/><circle cx="631.3" cy="1295.1" r="1.7" fill-opacity="0.68"/><circle cx="600.0" cy="1297.1" r="1.3" fill-opacity="0.61"/><circle cx="624.5" cy="1308.8" r="1.5" fill-opacity="0.49"/><circle cx="540.3" cy="1328.4" r="1.4" fill-opacity="0.72"/><circle cx="549.1" cy="1329.4" r="1.4" fill-opacity="0.54"/><circle cx="578.5" cy="1325.5" r="1.7" fill-opacity="0.75"/><circle cx="605.9" cy="1347.0" r="1.4" fill-opacity="0.61"/><circle cx="652.9" cy="1315.7" r="1.8" fill-opacity="0.76"/><circle cx="641.1" cy="1333.3" r="2.1" fill-opacity="0.75"/><circle cx="672.4" cy="1335.3" r="1.6" fill-opacity="0.60"/><circle cx="705.7" cy="1331.4" r="1.7" fill-opacity="0.76"/><circle cx="750.7" cy="1337.2" r="2.3" fill-opacity="0.50"/><circle cx="760.5" cy="1345.0" r="1.5" fill-opacity="0.53"/><circle cx="768.3" cy="1350.9" r="1.5" fill-opacity="0.62"/><circle cx="654.8" cy="1358.7" r="1.9" fill-opacity="0.54"/><circle cx="713.5" cy="1365.6" r="1.3" fill-opacity="0.60"/><circle cx="774.2" cy="1364.6" r="1.7" fill-opacity="0.65"/><circle cx="803.5" cy="1363.6" r="2.3" fill-opacity="0.69"/><circle cx="801.6" cy="1376.4" r="1.8" fill-opacity="0.67"/><circle cx="733.1" cy="1375.4" r="2.0" fill-opacity="0.47"/><circle cx="758.5" cy="1391.0" r="2.2" fill-opacity="0.72"/><circle cx="764.4" cy="1391.0" r="2.2" fill-opacity="0.73"/><circle cx="656.8" cy="1391.0" r="1.7" fill-opacity="0.59"/><circle cx="635.2" cy="1385.2" r="1.4" fill-opacity="0.67"/><circle cx="699.8" cy="1403.8" r="1.4" fill-opacity="0.47"/><circle cx="693.0" cy="1401.2" r="1.5" fill-opacity="0.51"/><circle cx="712.5" cy="1403.2" r="1.6" fill-opacity="0.47"/><circle cx="725.3" cy="1403.8" r="1.3" fill-opacity="0.50"/><circle cx="729.2" cy="1405.7" r="1.4" fill-opacity="0.58"/><circle cx="599.0" cy="1402.8" r="1.3" fill-opacity="0.76"/><circle cx="591.2" cy="1402.8" r="1.9" fill-opacity="0.50"/><circle cx="604.9" cy="1413.2" r="1.6" fill-opacity="0.57"/><circle cx="605.9" cy="1419.4" r="1.7" fill-opacity="0.49"/><circle cx="638.8" cy="1412.0" r="2.1" fill-opacity="0.80"/><circle cx="676.3" cy="1410.6" r="1.8" fill-opacity="0.62"/><circle cx="682.2" cy="1408.6" r="1.4" fill-opacity="0.49"/><circle cx="688.1" cy="1419.4" r="1.6" fill-opacity="0.54"/><circle cx="733.1" cy="1422.9" r="2.1" fill-opacity="0.51"/><circle cx="556.0" cy="1368.5" r="1.3" fill-opacity="0.78"/><circle cx="752.7" cy="1293.8" r="1.8" fill-opacity="0.50"/><circle cx="744.8" cy="1339.2" r="1.8" fill-opacity="0.46"/><circle cx="682.2" cy="1319.6" r="1.8" fill-opacity="0.79"/><circle cx="740.9" cy="1276.6" r="2.2" fill-opacity="0.69"/><circle cx="705.9" cy="1327.2" r="0.8" fill-opacity="0.43"/><circle cx="697.7" cy="1320.7" r="0.9" fill-opacity="0.27"/><circle cx="711.7" cy="1309.0" r="1.3" fill-opacity="0.44"/><circle cx="704.4" cy="1315.3" r="0.9" fill-opacity="0.36"/><circle cx="700.2" cy="1323.7" r="0.7" fill-opacity="0.28"/><circle cx="700.5" cy="1330.5" r="1.4" fill-opacity="0.33"/><circle cx="709.2" cy="1316.6" r="1.4" fill-opacity="0.31"/><circle cx="696.1" cy="1325.8" r="0.8" fill-opacity="0.26"/><circle cx="687.8" cy="1314.8" r="1.3" fill-opacity="0.34"/><circle cx="684.6" cy="1313.6" r="0.8" fill-opacity="0.40"/><circle cx="697.1" cy="1316.3" r="1.2" fill-opacity="0.34"/><circle cx="693.6" cy="1328.9" r="0.9" fill-opacity="0.44"/><circle cx="689.1" cy="1317.8" r="1.0" fill-opacity="0.48"/><circle cx="683.7" cy="1315.7" r="0.8" fill-opacity="0.25"/><circle cx="691.7" cy="1313.6" r="0.8" fill-opacity="0.45"/><circle cx="686.1" cy="1314.7" r="0.9" fill-opacity="0.36"/><circle cx="679.4" cy="1316.2" r="1.4" fill-opacity="0.39"/><circle cx="667.4" cy="1313.6" r="1.0" fill-opacity="0.46"/><circle cx="675.6" cy="1308.5" r="0.9" fill-opacity="0.29"/><circle cx="674.4" cy="1318.2" r="0.9" fill-opacity="0.33"/><circle cx="681.5" cy="1319.6" r="0.9" fill-opacity="0.34"/><circle cx="660.5" cy="1301.3" r="1.0" fill-opacity="0.48"/><circle cx="663.7" cy="1306.7" r="1.1" fill-opacity="0.21"/><circle cx="666.9" cy="1307.9" r="0.7" fill-opacity="0.44"/><circle cx="669.3" cy="1306.2" r="1.2" fill-opacity="0.37"/><circle cx="663.9" cy="1306.6" r="1.1" fill-opacity="0.44"/><circle cx="671.7" cy="1305.2" r="0.9" fill-opacity="0.28"/><circle cx="665.4" cy="1289.3" r="1.1" fill-opacity="0.43"/><circle cx="669.1" cy="1292.3" r="1.1" fill-opacity="0.35"/><circle cx="656.9" cy="1294.6" r="1.0" fill-opacity="0.36"/><circle cx="651.9" cy="1290.3" r="1.2" fill-opacity="0.46"/><circle cx="667.3" cy="1287.3" r="1.1" fill-opacity="0.48"/><circle cx="665.1" cy="1286.4" r="0.8" fill-opacity="0.33"/><circle cx="667.6" cy="1283.6" r="0.8" fill-opacity="0.40"/><circle cx="666.5" cy="1271.6" r="0.8" fill-opacity="0.41"/><circle cx="662.8" cy="1279.6" r="1.3" fill-opacity="0.49"/><circle cx="668.7" cy="1287.4" r="1.0" fill-opacity="0.35"/><circle cx="675.8" cy="1274.7" r="0.8" fill-opacity="0.33"/><circle cx="661.8" cy="1274.9" r="0.8" fill-opacity="0.30"/><circle cx="669.9" cy="1267.9" r="1.1" fill-opacity="0.33"/><circle cx="674.5" cy="1269.4" r="1.1" fill-opacity="0.35"/><circle cx="683.4" cy="1274.6" r="1.3" fill-opacity="0.49"/><circle cx="678.4" cy="1265.4" r="0.7" fill-opacity="0.43"/><circle cx="675.0" cy="1265.6" r="1.0" fill-opacity="0.47"/><circle cx="676.9" cy="1259.5" r="0.8" fill-opacity="0.48"/><circle cx="675.1" cy="1254.5" r="0.8" fill-opacity="0.22"/><circle cx="680.1" cy="1253.0" r="0.8" fill-opacity="0.48"/><circle cx="676.2" cy="1251.1" r="0.8" fill-opacity="0.46"/><circle cx="699.5" cy="1257.7" r="1.0" fill-opacity="0.30"/><circle cx="679.6" cy="1249.9" r="0.9" fill-opacity="0.24"/><circle cx="686.8" cy="1253.1" r="0.8" fill-opacity="0.25"/><circle cx="703.1" cy="1251.8" r="0.9" fill-opacity="0.29"/><circle cx="700.2" cy="1246.7" r="1.1" fill-opacity="0.25"/><circle cx="699.4" cy="1251.6" r="0.9" fill-opacity="0.20"/><circle cx="709.9" cy="1243.1" r="0.8" fill-opacity="0.34"/><circle cx="712.7" cy="1248.4" r="1.3" fill-opacity="0.33"/><circle cx="701.0" cy="1249.6" r="1.0" fill-opacity="0.35"/><circle cx="716.5" cy="1236.4" r="0.9" fill-opacity="0.45"/><circle cx="720.0" cy="1242.7" r="1.0" fill-opacity="0.30"/><circle cx="724.4" cy="1250.4" r="0.7" fill-opacity="0.42"/><circle cx="733.6" cy="1254.5" r="0.8" fill-opacity="0.45"/><circle cx="738.8" cy="1246.1" r="0.9" fill-opacity="0.27"/><circle cx="732.2" cy="1256.9" r="0.8" fill-opacity="0.33"/><circle cx="744.4" cy="1268.1" r="1.4" fill-opacity="0.36"/><circle cx="745.9" cy="1268.3" r="0.9" fill-opacity="0.31"/><circle cx="750.4" cy="1255.4" r="1.0" fill-opacity="0.35"/><circle cx="758.7" cy="1266.7" r="0.7" fill-opacity="0.28"/><circle cx="761.2" cy="1263.8" r="0.7" fill-opacity="0.21"/><circle cx="755.7" cy="1264.5" r="1.1" fill-opacity="0.36"/><circle cx="767.6" cy="1261.4" r="1.2" fill-opacity="0.46"/><circle cx="764.2" cy="1271.5" r="1.4" fill-opacity="0.24"/><circle cx="766.4" cy="1261.6" r="0.7" fill-opacity="0.45"/><circle cx="782.4" cy="1273.6" r="1.2" fill-opacity="0.44"/><circle cx="780.8" cy="1282.7" r="1.1" fill-opacity="0.45"/><circle cx="780.1" cy="1269.2" r="1.1" fill-opacity="0.47"/><circle cx="781.5" cy="1281.9" r="0.9" fill-opacity="0.21"/><circle cx="787.8" cy="1292.4" r="0.8" fill-opacity="0.45"/><circle cx="778.1" cy="1286.4" r="1.1" fill-opacity="0.40"/><circle cx="789.7" cy="1301.2" r="1.3" fill-opacity="0.42"/><circle cx="784.0" cy="1301.0" r="1.2" fill-opacity="0.22"/><circle cx="789.8" cy="1297.3" r="0.8" fill-opacity="0.28"/><circle cx="792.7" cy="1311.0" r="1.2" fill-opacity="0.49"/><circle cx="788.3" cy="1314.6" r="1.0" fill-opacity="0.41"/><circle cx="793.9" cy="1307.5" r="1.1" fill-opacity="0.22"/><circle cx="795.7" cy="1331.3" r="1.2" fill-opacity="0.29"/><circle cx="792.6" cy="1327.9" r="0.7" fill-opacity="0.28"/><circle cx="789.7" cy="1321.5" r="1.2" fill-opacity="0.29"/><circle cx="784.9" cy="1341.7" r="1.0" fill-opacity="0.24"/><circle cx="793.1" cy="1340.2" r="1.4" fill-opacity="0.48"/><circle cx="795.9" cy="1342.9" r="1.3" fill-opacity="0.49"/><circle cx="780.5" cy="1357.2" r="0.8" fill-opacity="0.48"/><circle cx="785.9" cy="1362.4" r="0.8" fill-opacity="0.36"/><circle cx="786.8" cy="1355.2" r="1.3" fill-opacity="0.35"/><circle cx="780.6" cy="1363.8" r="0.9" fill-opacity="0.47"/><circle cx="773.6" cy="1369.0" r="0.7" fill-opacity="0.35"/><circle cx="770.7" cy="1370.2" r="0.8" fill-opacity="0.30"/><circle cx="758.0" cy="1389.3" r="0.7" fill-opacity="0.43"/><circle cx="763.2" cy="1378.3" r="1.3" fill-opacity="0.41"/><circle cx="765.2" cy="1378.1" r="1.0" fill-opacity="0.32"/><circle cx="752.6" cy="1390.1" r="1.0" fill-opacity="0.33"/><circle cx="745.7" cy="1391.7" r="0.8" fill-opacity="0.45"/><circle cx="743.3" cy="1401.6" r="0.9" fill-opacity="0.28"/><circle cx="723.9" cy="1397.3" r="1.0" fill-opacity="0.49"/><circle cx="733.9" cy="1391.4" r="1.1" fill-opacity="0.47"/><circle cx="733.0" cy="1395.2" r="1.2" fill-opacity="0.21"/><circle cx="703.4" cy="1270.1" r="1.2" fill-opacity="0.39"/><circle cx="703.7" cy="1277.1" r="1.3" fill-opacity="0.24"/><circle cx="699.5" cy="1276.3" r="0.9" fill-opacity="0.42"/><circle cx="713.1" cy="1274.4" r="1.2" fill-opacity="0.29"/><circle cx="704.5" cy="1273.2" r="0.8" fill-opacity="0.25"/><circle cx="712.1" cy="1285.5" r="1.0" fill-opacity="0.27"/><circle cx="728.7" cy="1265.9" r="1.0" fill-opacity="0.24"/><circle cx="715.5" cy="1277.3" r="0.9" fill-opacity="0.23"/><circle cx="715.0" cy="1279.1" r="1.1" fill-opacity="0.47"/><circle cx="720.5" cy="1271.3" r="1.0" fill-opacity="0.36"/><circle cx="717.2" cy="1279.6" r="0.7" fill-opacity="0.28"/><circle cx="723.0" cy="1275.9" r="1.1" fill-opacity="0.39"/><circle cx="728.4" cy="1275.8" r="0.9" fill-opacity="0.27"/><circle cx="721.8" cy="1281.7" r="1.4" fill-opacity="0.45"/><circle cx="726.9" cy="1277.7" r="0.7" fill-opacity="0.41"/><circle cx="736.1" cy="1278.0" r="1.1" fill-opacity="0.20"/><circle cx="722.7" cy="1288.6" r="1.3" fill-opacity="0.46"/><circle cx="735.3" cy="1280.8" r="0.8" fill-opacity="0.25"/><circle cx="729.1" cy="1284.2" r="1.4" fill-opacity="0.42"/><circle cx="731.5" cy="1278.5" r="1.0" fill-opacity="0.37"/><circle cx="745.1" cy="1287.4" r="0.9" fill-opacity="0.48"/><circle cx="738.4" cy="1286.6" r="0.8" fill-opacity="0.28"/><circle cx="735.9" cy="1284.1" r="0.8" fill-opacity="0.22"/><circle cx="734.5" cy="1289.0" r="1.0" fill-opacity="0.27"/><circle cx="743.9" cy="1295.0" r="0.9" fill-opacity="0.34"/><circle cx="751.4" cy="1293.6" r="1.3" fill-opacity="0.34"/><circle cx="744.8" cy="1299.1" r="1.4" fill-opacity="0.41"/><circle cx="746.5" cy="1302.4" r="1.0" fill-opacity="0.40"/><circle cx="743.5" cy="1303.3" r="1.2" fill-opacity="0.48"/><circle cx="747.1" cy="1302.7" r="0.9" fill-opacity="0.33"/><circle cx="746.7" cy="1304.9" r="1.3" fill-opacity="0.42"/><circle cx="744.7" cy="1307.8" r="1.4" fill-opacity="0.29"/><circle cx="749.6" cy="1304.6" r="0.9" fill-opacity="0.43"/><circle cx="744.4" cy="1326.4" r="1.0" fill-opacity="0.26"/><circle cx="748.7" cy="1319.7" r="1.2" fill-opacity="0.48"/><circle cx="750.9" cy="1318.6" r="0.8" fill-opacity="0.49"/><circle cx="747.1" cy="1322.6" r="0.7" fill-opacity="0.32"/><circle cx="754.4" cy="1315.2" r="1.2" fill-opacity="0.50"/><circle cx="750.1" cy="1319.5" r="0.8" fill-opacity="0.48"/><circle cx="742.7" cy="1326.7" r="1.2" fill-opacity="0.31"/><circle cx="739.6" cy="1331.1" r="0.8" fill-opacity="0.20"/><circle cx="741.9" cy="1332.5" r="1.4" fill-opacity="0.24"/><circle cx="741.1" cy="1333.3" r="0.9" fill-opacity="0.45"/><circle cx="740.1" cy="1329.3" r="0.7" fill-opacity="0.34"/><circle cx="729.9" cy="1342.1" r="0.8" fill-opacity="0.31"/><circle cx="732.2" cy="1338.7" r="1.0" fill-opacity="0.44"/><circle cx="731.4" cy="1338.0" r="0.7" fill-opacity="0.22"/><circle cx="734.6" cy="1337.6" r="1.2" fill-opacity="0.47"/><circle cx="721.1" cy="1347.3" r="1.4" fill-opacity="0.39"/><circle cx="722.6" cy="1351.8" r="0.9" fill-opacity="0.28"/><circle cx="731.6" cy="1344.1" r="1.3" fill-opacity="0.39"/><circle cx="714.9" cy="1346.8" r="0.9" fill-opacity="0.34"/><circle cx="725.8" cy="1343.8" r="1.0" fill-opacity="0.28"/><circle cx="708.6" cy="1349.6" r="1.3" fill-opacity="0.25"/><circle cx="706.0" cy="1341.2" r="1.3" fill-opacity="0.43"/><circle cx="699.9" cy="1346.2" r="0.9" fill-opacity="0.31"/><circle cx="703.8" cy="1347.0" r="0.8" fill-opacity="0.43"/><circle cx="692.1" cy="1351.0" r="0.7" fill-opacity="0.37"/><circle cx="685.6" cy="1361.6" r="1.3" fill-opacity="0.50"/><circle cx="691.9" cy="1351.2" r="0.8" fill-opacity="0.35"/><circle cx="678.9" cy="1342.3" r="0.9" fill-opacity="0.33"/><circle cx="674.8" cy="1342.4" r="1.2" fill-opacity="0.45"/><circle cx="678.9" cy="1345.4" r="1.3" fill-opacity="0.29"/><circle cx="663.9" cy="1342.2" r="1.2" fill-opacity="0.26"/><circle cx="668.3" cy="1347.9" r="0.8" fill-opacity="0.47"/><circle cx="664.4" cy="1342.0" r="1.0" fill-opacity="0.50"/><circle cx="653.0" cy="1338.6" r="1.3" fill-opacity="0.40"/><circle cx="658.9" cy="1338.7" r="1.0" fill-opacity="0.45"/><circle cx="662.6" cy="1329.4" r="0.7" fill-opacity="0.29"/><circle cx="648.0" cy="1333.8" r="1.4" fill-opacity="0.37"/><circle cx="650.0" cy="1329.5" r="1.3" fill-opacity="0.33"/><circle cx="645.1" cy="1340.2" r="1.4" fill-opacity="0.23"/><circle cx="630.1" cy="1318.6" r="0.9" fill-opacity="0.31"/><circle cx="637.9" cy="1325.1" r="0.9" fill-opacity="0.38"/><circle cx="633.9" cy="1319.8" r="0.7" fill-opacity="0.30"/><circle cx="626.2" cy="1309.0" r="0.9" fill-opacity="0.26"/><circle cx="629.4" cy="1305.8" r="0.7" fill-opacity="0.23"/><circle cx="622.6" cy="1315.7" r="1.1" fill-opacity="0.23"/><circle cx="625.5" cy="1306.4" r="1.0" fill-opacity="0.28"/><circle cx="617.1" cy="1311.4" r="0.9" fill-opacity="0.37"/><circle cx="618.3" cy="1303.8" r="1.3" fill-opacity="0.50"/><circle cx="615.6" cy="1289.1" r="1.2" fill-opacity="0.26"/><circle cx="628.6" cy="1287.0" r="1.0" fill-opacity="0.45"/><circle cx="609.2" cy="1292.4" r="1.0" fill-opacity="0.25"/><circle cx="623.3" cy="1273.3" r="1.1" fill-opacity="0.47"/><circle cx="622.9" cy="1276.5" r="1.0" fill-opacity="0.35"/><circle cx="619.4" cy="1276.0" r="1.1" fill-opacity="0.48"/><circle cx="623.7" cy="1262.2" r="1.3" fill-opacity="0.49"/><circle cx="620.0" cy="1261.0" r="1.4" fill-opacity="0.49"/><circle cx="617.5" cy="1258.8" r="1.3" fill-opacity="0.32"/><circle cx="630.4" cy="1240.7" r="1.3" fill-opacity="0.25"/><circle cx="625.4" cy="1241.1" r="1.0" fill-opacity="0.45"/><circle cx="626.2" cy="1241.8" r="0.9" fill-opacity="0.32"/><circle cx="628.6" cy="1230.8" r="0.8" fill-opacity="0.27"/><circle cx="631.8" cy="1220.8" r="0.7" fill-opacity="0.37"/><circle cx="633.6" cy="1229.9" r="1.3" fill-opacity="0.24"/><circle cx="640.6" cy="1215.6" r="1.1" fill-opacity="0.29"/><circle cx="639.9" cy="1222.4" r="1.0" fill-opacity="0.40"/><circle cx="640.6" cy="1221.0" r="0.7" fill-opacity="0.39"/><circle cx="657.5" cy="1209.2" r="1.2" fill-opacity="0.43"/><circle cx="658.1" cy="1209.8" r="1.0" fill-opacity="0.23"/><circle cx="664.8" cy="1212.8" r="0.8" fill-opacity="0.33"/><circle cx="678.0" cy="1200.9" r="1.1" fill-opacity="0.22"/><circle cx="678.6" cy="1192.4" r="1.1" fill-opacity="0.22"/><circle cx="674.6" cy="1200.9" r="1.4" fill-opacity="0.24"/><circle cx="671.3" cy="1296.3" r="1.2" fill-opacity="0.44"/><circle cx="665.8" cy="1322.6" r="1.0" fill-opacity="0.49"/><circle cx="663.5" cy="1307.8" r="1.3" fill-opacity="0.48"/><circle cx="661.9" cy="1306.0" r="1.2" fill-opacity="0.25"/><circle cx="660.9" cy="1301.7" r="1.3" fill-opacity="0.24"/><circle cx="646.4" cy="1304.0" r="0.8" fill-opacity="0.28"/><circle cx="650.9" cy="1298.3" r="0.7" fill-opacity="0.25"/><circle cx="661.4" cy="1308.4" r="1.2" fill-opacity="0.47"/><circle cx="659.5" cy="1306.1" r="0.8" fill-opacity="0.36"/><circle cx="650.6" cy="1288.9" r="1.3" fill-opacity="0.37"/><circle cx="644.6" cy="1287.5" r="0.8" fill-opacity="0.50"/><circle cx="650.2" cy="1288.9" r="1.3" fill-opacity="0.28"/><circle cx="659.6" cy="1285.9" r="1.0" fill-opacity="0.43"/><circle cx="650.2" cy="1287.4" r="1.2" fill-opacity="0.21"/><circle cx="654.7" cy="1282.8" r="1.1" fill-opacity="0.50"/><circle cx="647.2" cy="1276.2" r="0.9" fill-opacity="0.20"/><circle cx="656.3" cy="1280.6" r="1.1" fill-opacity="0.33"/><circle cx="642.9" cy="1279.1" r="0.8" fill-opacity="0.27"/><circle cx="654.5" cy="1272.7" r="0.7" fill-opacity="0.31"/><circle cx="658.8" cy="1276.5" r="0.9" fill-opacity="0.38"/><circle cx="652.2" cy="1271.8" r="1.1" fill-opacity="0.34"/><circle cx="665.5" cy="1276.2" r="0.9" fill-opacity="0.24"/><circle cx="663.6" cy="1271.4" r="1.3" fill-opacity="0.43"/><circle cx="654.6" cy="1269.6" r="0.7" fill-opacity="0.39"/><circle cx="657.3" cy="1259.6" r="1.2" fill-opacity="0.33"/><circle cx="669.1" cy="1258.3" r="0.9" fill-opacity="0.47"/><circle cx="667.5" cy="1263.1" r="1.0" fill-opacity="0.27"/><circle cx="674.6" cy="1258.9" r="0.7" fill-opacity="0.37"/><circle cx="669.1" cy="1254.8" r="0.8" fill-opacity="0.38"/><circle cx="659.4" cy="1255.5" r="1.3" fill-opacity="0.25"/><circle cx="671.0" cy="1254.7" r="0.7" fill-opacity="0.47"/><circle cx="674.2" cy="1243.0" r="0.7" fill-opacity="0.45"/><circle cx="672.4" cy="1245.2" r="1.2" fill-opacity="0.34"/><circle cx="680.0" cy="1248.7" r="0.9" fill-opacity="0.21"/><circle cx="675.4" cy="1253.6" r="1.2" fill-opacity="0.45"/><circle cx="678.8" cy="1242.6" r="1.1" fill-opacity="0.33"/><circle cx="689.2" cy="1236.9" r="0.9" fill-opacity="0.39"/><circle cx="691.2" cy="1242.1" r="1.3" fill-opacity="0.20"/><circle cx="687.5" cy="1246.5" r="1.2" fill-opacity="0.48"/><circle cx="696.6" cy="1235.7" r="1.3" fill-opacity="0.30"/><circle cx="697.5" cy="1251.1" r="1.1" fill-opacity="0.41"/><circle cx="689.7" cy="1228.2" r="1.0" fill-opacity="0.45"/><circle cx="703.2" cy="1229.2" r="1.0" fill-opacity="0.42"/><circle cx="702.6" cy="1236.7" r="0.8" fill-opacity="0.39"/><circle cx="716.1" cy="1243.7" r="0.8" fill-opacity="0.21"/><circle cx="725.7" cy="1245.2" r="0.9" fill-opacity="0.24"/><circle cx="718.2" cy="1238.3" r="1.2" fill-opacity="0.39"/><circle cx="714.1" cy="1230.4" r="0.7" fill-opacity="0.38"/><circle cx="721.4" cy="1245.8" r="1.3" fill-opacity="0.47"/><circle cx="736.6" cy="1242.8" r="1.3" fill-opacity="0.48"/><circle cx="730.1" cy="1240.9" r="0.8" fill-opacity="0.21"/><circle cx="743.6" cy="1233.3" r="1.1" fill-opacity="0.45"/><circle cx="735.6" cy="1237.8" r="0.8" fill-opacity="0.23"/><circle cx="738.5" cy="1237.4" r="0.9" fill-opacity="0.33"/><circle cx="753.1" cy="1244.6" r="0.9" fill-opacity="0.41"/><circle cx="746.3" cy="1247.3" r="1.4" fill-opacity="0.35"/><circle cx="753.4" cy="1238.5" r="0.7" fill-opacity="0.32"/><circle cx="752.1" cy="1252.1" r="0.9" fill-opacity="0.41"/><circle cx="756.7" cy="1247.9" r="1.3" fill-opacity="0.23"/><circle cx="761.4" cy="1246.0" r="0.7" fill-opacity="0.26"/><circle cx="771.4" cy="1240.9" r="0.7" fill-opacity="0.35"/><circle cx="761.4" cy="1255.2" r="0.8" fill-opacity="0.35"/><circle cx="764.9" cy="1262.4" r="0.9" fill-opacity="0.48"/><circle cx="779.2" cy="1265.3" r="1.2" fill-opacity="0.35"/><circle cx="785.5" cy="1266.5" r="0.8" fill-opacity="0.44"/><circle cx="777.1" cy="1253.6" r="1.1" fill-opacity="0.31"/><circle cx="784.6" cy="1273.3" r="1.3" fill-opacity="0.23"/><circle cx="789.5" cy="1269.6" r="0.8" fill-opacity="0.28"/><circle cx="793.5" cy="1266.9" r="1.0" fill-opacity="0.47"/><circle cx="796.8" cy="1285.4" r="1.1" fill-opacity="0.43"/><circle cx="796.4" cy="1272.7" r="0.9" fill-opacity="0.30"/><circle cx="801.6" cy="1287.9" r="1.2" fill-opacity="0.42"/><circle cx="805.0" cy="1295.1" r="1.2" fill-opacity="0.37"/><circle cx="806.3" cy="1294.4" r="1.3" fill-opacity="0.27"/><circle cx="803.9" cy="1294.4" r="1.2" fill-opacity="0.45"/><circle cx="808.7" cy="1304.2" r="0.9" fill-opacity="0.30"/><circle cx="804.1" cy="1301.4" r="0.9" fill-opacity="0.26"/><circle cx="815.0" cy="1300.5" r="0.8" fill-opacity="0.49"/><circle cx="813.8" cy="1316.7" r="1.4" fill-opacity="0.44"/><circle cx="809.3" cy="1308.5" r="0.8" fill-opacity="0.39"/><circle cx="812.5" cy="1315.9" r="1.0" fill-opacity="0.21"/><circle cx="803.6" cy="1331.5" r="1.2" fill-opacity="0.35"/><circle cx="807.0" cy="1322.1" r="0.8" fill-opacity="0.38"/><circle cx="803.9" cy="1330.9" r="1.3" fill-opacity="0.33"/><circle cx="802.1" cy="1335.2" r="1.0" fill-opacity="0.27"/><circle cx="807.7" cy="1328.8" r="1.2" fill-opacity="0.41"/><circle cx="814.0" cy="1332.9" r="1.1" fill-opacity="0.34"/><circle cx="803.4" cy="1358.1" r="0.8" fill-opacity="0.33"/><circle cx="807.7" cy="1343.9" r="1.1" fill-opacity="0.28"/><circle cx="801.2" cy="1354.1" r="1.1" fill-opacity="0.32"/><circle cx="795.2" cy="1353.7" r="0.8" fill-opacity="0.40"/><circle cx="801.3" cy="1359.1" r="1.0" fill-opacity="0.49"/><circle cx="806.5" cy="1365.5" r="0.8" fill-opacity="0.43"/><circle cx="798.1" cy="1373.6" r="0.8" fill-opacity="0.37"/><circle cx="784.8" cy="1373.8" r="1.1" fill-opacity="0.39"/><circle cx="795.3" cy="1370.4" r="1.0" fill-opacity="0.48"/><circle cx="784.1" cy="1394.1" r="1.0" fill-opacity="0.43"/><circle cx="792.6" cy="1396.8" r="0.9" fill-opacity="0.22"/><circle cx="781.4" cy="1391.8" r="0.7" fill-opacity="0.33"/><circle cx="763.0" cy="1400.4" r="0.9" fill-opacity="0.28"/><circle cx="771.1" cy="1404.8" r="1.4" fill-opacity="0.36"/><circle cx="771.5" cy="1405.5" r="1.0" fill-opacity="0.26"/><circle cx="761.2" cy="1411.5" r="1.3" fill-opacity="0.39"/><circle cx="749.0" cy="1406.4" r="0.9" fill-opacity="0.49"/><circle cx="751.0" cy="1410.9" r="1.3" fill-opacity="0.44"/><circle cx="745.7" cy="1287.9" r="1.1" fill-opacity="0.24"/><circle cx="752.2" cy="1283.0" r="1.3" fill-opacity="0.28"/><circle cx="747.1" cy="1289.8" r="1.0" fill-opacity="0.26"/><circle cx="761.3" cy="1292.3" r="0.9" fill-opacity="0.27"/><circle cx="751.5" cy="1297.6" r="1.0" fill-opacity="0.39"/><circle cx="750.7" cy="1288.2" r="1.4" fill-opacity="0.46"/><circle cx="764.8" cy="1301.0" r="1.3" fill-opacity="0.44"/><circle cx="762.0" cy="1305.0" r="1.1" fill-opacity="0.20"/><circle cx="768.3" cy="1298.6" r="1.2" fill-opacity="0.28"/><circle cx="760.1" cy="1305.3" r="0.9" fill-opacity="0.43"/><circle cx="756.2" cy="1306.1" r="1.3" fill-opacity="0.44"/><circle cx="763.0" cy="1312.8" r="1.1" fill-opacity="0.43"/><circle cx="753.5" cy="1300.7" r="1.3" fill-opacity="0.45"/><circle cx="761.2" cy="1317.2" r="1.1" fill-opacity="0.42"/><circle cx="749.1" cy="1313.8" r="1.1" fill-opacity="0.28"/><circle cx="758.9" cy="1319.0" r="1.0" fill-opacity="0.22"/><circle cx="755.9" cy="1316.8" r="1.0" fill-opacity="0.35"/><circle cx="748.9" cy="1313.8" r="0.7" fill-opacity="0.45"/><circle cx="751.1" cy="1324.0" r="1.2" fill-opacity="0.45"/><circle cx="753.7" cy="1326.4" r="1.4" fill-opacity="0.22"/><circle cx="752.7" cy="1317.3" r="0.7" fill-opacity="0.38"/><circle cx="750.3" cy="1318.5" r="0.9" fill-opacity="0.49"/><circle cx="749.3" cy="1328.6" r="1.3" fill-opacity="0.21"/><circle cx="753.6" cy="1322.2" r="0.9" fill-opacity="0.46"/><circle cx="747.7" cy="1339.4" r="1.1" fill-opacity="0.43"/><circle cx="752.8" cy="1340.3" r="1.0" fill-opacity="0.37"/><circle cx="753.5" cy="1331.5" r="1.3" fill-opacity="0.32"/><circle cx="742.9" cy="1340.8" r="1.1" fill-opacity="0.49"/><circle cx="741.9" cy="1333.6" r="0.9" fill-opacity="0.30"/><circle cx="744.9" cy="1347.2" r="1.1" fill-opacity="0.44"/><circle cx="748.8" cy="1348.2" r="1.3" fill-opacity="0.36"/><circle cx="745.1" cy="1347.5" r="0.7" fill-opacity="0.26"/><circle cx="747.1" cy="1342.9" r="1.2" fill-opacity="0.44"/><circle cx="740.0" cy="1347.1" r="1.1" fill-opacity="0.39"/><circle cx="732.0" cy="1344.5" r="1.2" fill-opacity="0.26"/><circle cx="731.5" cy="1346.0" r="1.2" fill-opacity="0.23"/><circle cx="726.9" cy="1355.9" r="1.2" fill-opacity="0.47"/><circle cx="723.7" cy="1350.7" r="1.3" fill-opacity="0.44"/><circle cx="722.8" cy="1353.2" r="0.9" fill-opacity="0.33"/><circle cx="715.3" cy="1362.5" r="1.1" fill-opacity="0.48"/><circle cx="723.7" cy="1359.8" r="0.7" fill-opacity="0.24"/><circle cx="720.0" cy="1351.6" r="1.3" fill-opacity="0.33"/><circle cx="712.9" cy="1360.1" r="1.1" fill-opacity="0.48"/><circle cx="713.6" cy="1358.9" r="1.0" fill-opacity="0.23"/><circle cx="705.9" cy="1356.9" r="0.8" fill-opacity="0.20"/><circle cx="705.3" cy="1360.7" r="0.8" fill-opacity="0.49"/><circle cx="706.3" cy="1365.8" r="0.8" fill-opacity="0.21"/><circle cx="697.0" cy="1356.8" r="1.2" fill-opacity="0.26"/><circle cx="695.3" cy="1362.8" r="1.2" fill-opacity="0.46"/><circle cx="686.8" cy="1358.0" r="1.1" fill-opacity="0.41"/><circle cx="675.8" cy="1363.0" r="0.9" fill-opacity="0.49"/><circle cx="675.9" cy="1357.7" r="0.7" fill-opacity="0.40"/><circle cx="676.9" cy="1356.6" r="0.9" fill-opacity="0.42"/><circle cx="681.1" cy="1367.1" r="1.0" fill-opacity="0.22"/><circle cx="660.6" cy="1360.4" r="1.0" fill-opacity="0.40"/><circle cx="670.5" cy="1362.6" r="1.0" fill-opacity="0.39"/><circle cx="661.4" cy="1351.8" r="1.0" fill-opacity="0.44"/><circle cx="662.3" cy="1348.3" r="1.1" fill-opacity="0.29"/><circle cx="666.6" cy="1356.3" r="1.2" fill-opacity="0.45"/><circle cx="650.7" cy="1357.2" r="1.4" fill-opacity="0.45"/><circle cx="640.1" cy="1343.1" r="1.0" fill-opacity="0.47"/><circle cx="638.1" cy="1351.0" r="1.1" fill-opacity="0.47"/><circle cx="645.0" cy="1341.8" r="0.7" fill-opacity="0.28"/><circle cx="627.7" cy="1341.9" r="1.3" fill-opacity="0.47"/><circle cx="642.7" cy="1341.2" r="1.3" fill-opacity="0.46"/><circle cx="630.0" cy="1337.0" r="1.3" fill-opacity="0.44"/><circle cx="620.1" cy="1320.5" r="0.9" fill-opacity="0.23"/><circle cx="616.1" cy="1327.6" r="0.8" fill-opacity="0.43"/><circle cx="627.8" cy="1329.1" r="1.1" fill-opacity="0.40"/><circle cx="613.2" cy="1322.0" r="0.9" fill-opacity="0.43"/><circle cx="617.9" cy="1315.9" r="0.8" fill-opacity="0.44"/><circle cx="617.0" cy="1317.7" r="1.1" fill-opacity="0.47"/><circle cx="614.4" cy="1306.9" r="1.0" fill-opacity="0.38"/><circle cx="611.0" cy="1314.0" r="0.8" fill-opacity="0.41"/><circle cx="605.6" cy="1315.9" r="1.0" fill-opacity="0.36"/><circle cx="605.6" cy="1300.9" r="1.4" fill-opacity="0.31"/><circle cx="610.2" cy="1304.1" r="1.3" fill-opacity="0.25"/><circle cx="600.9" cy="1297.1" r="1.1" fill-opacity="0.21"/><circle cx="616.2" cy="1291.0" r="1.3" fill-opacity="0.35"/><circle cx="597.7" cy="1286.2" r="1.2" fill-opacity="0.33"/><circle cx="609.3" cy="1285.0" r="1.3" fill-opacity="0.49"/><circle cx="599.7" cy="1276.7" r="0.8" fill-opacity="0.25"/><circle cx="601.2" cy="1276.1" r="1.1" fill-opacity="0.46"/><circle cx="588.1" cy="1278.5" r="1.3" fill-opacity="0.22"/><circle cx="596.3" cy="1259.7" r="0.8" fill-opacity="0.49"/><circle cx="600.1" cy="1269.0" r="1.1" fill-opacity="0.49"/><circle cx="597.9" cy="1258.2" r="1.0" fill-opacity="0.25"/><circle cx="618.2" cy="1246.5" r="0.9" fill-opacity="0.21"/><circle cx="603.0" cy="1254.4" r="1.3" fill-opacity="0.47"/><circle cx="603.9" cy="1248.4" r="1.3" fill-opacity="0.41"/><circle cx="599.4" cy="1225.6" r="0.7" fill-opacity="0.24"/><circle cx="608.5" cy="1225.3" r="1.2" fill-opacity="0.29"/><circle cx="601.1" cy="1232.6" r="0.8" fill-opacity="0.30"/><circle cx="615.4" cy="1227.6" r="1.0" fill-opacity="0.25"/><circle cx="615.7" cy="1227.8" r="1.2" fill-opacity="0.20"/><circle cx="614.8" cy="1221.8" r="0.7" fill-opacity="0.48"/><circle cx="627.3" cy="1225.1" r="1.3" fill-opacity="0.47"/><circle cx="628.6" cy="1217.9" r="0.8" fill-opacity="0.48"/><circle cx="629.0" cy="1207.8" r="1.0" fill-opacity="0.30"/><circle cx="639.5" cy="1198.2" r="1.1" fill-opacity="0.24"/><circle cx="637.3" cy="1205.0" r="1.2" fill-opacity="0.37"/><circle cx="643.2" cy="1211.3" r="0.9" fill-opacity="0.32"/><circle cx="653.2" cy="1197.6" r="1.3" fill-opacity="0.30"/><circle cx="653.9" cy="1199.3" r="0.9" fill-opacity="0.47"/><circle cx="661.5" cy="1203.4" r="0.7" fill-opacity="0.47"/></g><ellipse cx="705.7" cy="1299.0" rx="8" ry="5" transform="rotate(12 705.7 1299.0)" fill="#000" filter="url(#bl2)"/></g></g>
<ellipse cx="703.2" cy="1601.2" rx="156" ry="145" fill="url(#elg)"/>
<g filter="url(#bl05)"><g clip-path="url(#mgclip)"><rect x="1760" y="730" width="280" height="220" fill="#ececec"/><ellipse cx="1920.3" cy="827.1" rx="16.1" ry="16.1" fill="#888" fill-opacity="0.6" filter="url(#bl6)"/><ellipse cx="1926.1" cy="825.7" rx="44.0" ry="38.2" fill="#aaa" fill-opacity="0.6" filter="url(#bl9)"/><ellipse cx="1933.5" cy="793.4" rx="44.0" ry="20.5" fill="#b4b4b4" fill-opacity="0.45" filter="url(#bl9)"/><ellipse cx="1861.6" cy="837.4" rx="20.5" ry="13.2" fill="#999" fill-opacity="0.55" filter="url(#bl6)"/><ellipse cx="1832.2" cy="893.2" rx="55.8" ry="17.6" fill="#bbb" fill-opacity="0.55" filter="url(#bl9)"/><ellipse cx="1904.1" cy="881.5" rx="13.2" ry="22.0" fill="#b4b4b4" fill-opacity="0.45" filter="url(#bl6)"/><ellipse cx="1983.4" cy="809.5" rx="16.1" ry="10.3" fill="#b4b4b4" fill-opacity="0.5" filter="url(#bl6)"/><ellipse cx="1838.1" cy="808.1" rx="16.1" ry="22.0" fill="#c4c4c4" fill-opacity="0.4" filter="url(#bl6)"/><ellipse cx="1832.9" cy="797.5" rx="8.1" ry="8.1" fill="#777" fill-opacity="0.55" filter="url(#bl3)"/><ellipse cx="1841.0" cy="826.4" rx="19.1" ry="9.5" fill="#777" fill-opacity="0.55" filter="url(#bl3)"/><ellipse cx="1919.5" cy="826.9" rx="11.0" ry="11.0" fill="#666" fill-opacity="0.5" filter="url(#bl3)"/><ellipse cx="1798.4" cy="907.1" rx="5.9" ry="5.9" fill="#777" fill-opacity="0.6" filter="url(#bl3)"/><ellipse cx="1830.7" cy="907.9" rx="4.4" ry="3.8" fill="#777" fill-opacity="0.6" filter="url(#bl3)"/><ellipse cx="1780.8" cy="883.2" rx="5.3" ry="5.3" fill="#888" fill-opacity="0.55" filter="url(#bl3)"/><ellipse cx="1888.0" cy="861.6" rx="5.9" ry="4.4" fill="#888" fill-opacity="0.5" filter="url(#bl3)"/><ellipse cx="1933.5" cy="849.2" rx="6.6" ry="6.6" fill="#888" fill-opacity="0.5" filter="url(#bl3)"/><ellipse cx="1987.0" cy="892.5" rx="6.6" ry="5.3" fill="#999" fill-opacity="0.55" filter="url(#bl3)"/><ellipse cx="2016.4" cy="873.4" rx="4.4" ry="4.4" fill="#999" fill-opacity="0.6" filter="url(#bl3)"/><ellipse cx="1883.6" cy="783.8" rx="4.7" ry="4.1" fill="#888" fill-opacity="0.55" filter="url(#bl3)"/><ellipse cx="1918.8" cy="755.2" rx="4.4" ry="3.8" fill="#999" fill-opacity="0.45" filter="url(#bl3)"/><ellipse cx="1845.4" cy="874.1" rx="29.4" ry="11.7" fill="#fff" fill-opacity="0.4" filter="url(#bl6)"/><ellipse cx="1882.1" cy="802.2" rx="14.7" ry="14.7" fill="#fff" fill-opacity="0.3" filter="url(#bl6)"/><ellipse cx="1967.2" cy="852.1" rx="22.0" ry="11.7" fill="#fff" fill-opacity="0.3" filter="url(#bl6)"/></g></g><g fill="#000" filter="url(#bl1)"><path d="M1826.7,825.9Q1829.3,823.9 1832.9,823.0Q1836.6,822.0 1838.4,819.6Q1840.3,817.2 1842.8,816.4Q1845.4,815.7 1848.3,817.2Q1851.3,818.6 1853.1,820.7Q1854.9,822.7 1855.9,824.6Q1856.9,826.4 1854.1,828.1Q1851.3,829.8 1846.9,831.3Q1842.5,832.7 1836.2,832.3Q1830.0,831.8 1827.4,831.0Q1824.9,830.1 1824.5,829.0Q1824.1,827.9 1826.7,825.9Z"/><ellipse cx="1832.9" cy="797.5" rx="5.3" ry="6.3"/><ellipse cx="1919.5" cy="826.9" rx="8" ry="7"/></g><ellipse cx="2016.4" cy="773.6" rx="3.2" ry="4.4" fill="#e9e9e9"/><ellipse cx="1984.6" cy="908.6" rx="2.2" ry="1.5" fill="#e9e9e9"/><ellipse cx="1976.0" cy="915.2" rx="1.2" ry="3.2" fill="#e9e9e9"/>
<rect x="2358" y="1513" width="28.5" height="11" fill="#fefefe"/>
<polygon points="2290,1590 2345,1590 2345,1634 2332,1635 2324,1626.5 2314,1634 2306,1629 2300,1626 2290,1626" fill="#fefefe"/>
<g clip-path="url(#hzclip)"><rect x="2240" y="1420" width="150" height="250" fill="url(#hzg)" filter="url(#spk)"/></g>
<g fill="#000" filter="url(#bl1)"><circle cx="2335" cy="1457" r="2.6"/><circle cx="2319.6" cy="1487" r="3"/><circle cx="2373" cy="1435.5" r="2"/><circle cx="2374.5" cy="1657" r="1.8"/><circle cx="2294" cy="1599" r="2"/><circle cx="2352" cy="1507" r="2"/></g>
<g fill="#000" filter="url(#bl1)"><path d="M2257.2,1612 L2258.5,1619.8 L2266.5,1621.4 L2258.5,1623 L2257.2,1631 L2255.9,1623 L2248,1621.4 L2255.9,1619.8Z"/><circle cx="2257.2" cy="1621.4" r="3.6"/><ellipse cx="2251.8" cy="1437.6" rx="2" ry="1.3"/><ellipse cx="2258.2" cy="1479.7" rx="2.2" ry="1" transform="rotate(-30 2258.2 1479.7)"/><ellipse cx="2200.4" cy="1513.6" rx="2.6" ry="1.1" transform="rotate(20 2200.4 1513.6)"/><circle cx="2259.4" cy="1560" r="1.6"/><circle cx="2233.6" cy="1598.3" r="1.4"/></g>
<rect x="2182.2" y="307.6" width="81.6" height="1528.4" fill="#ec2610" fill-opacity="0.415"/>
<polygon points="2115.6,671.1 2119.4,664.7 2129.1,663.2 2225.0,690.9 2217.2,716.3 2171.2,702.6 2164.4,706.5 2149.7,712.4 2158.5,768.2 2132.1,774.1" fill="#fff" stroke="#fff" stroke-width="3" stroke-linejoin="round"/>
<path d="M2141.0,694.0C2143.5,695.9 2150.8,701.1 2156.0,705.5C2161.2,709.9 2166.8,715.1 2172.0,720.5C2177.2,725.9 2182.6,731.9 2186.9,737.8C2191.2,743.7 2194.4,749.2 2198.0,756.0C2201.6,762.8 2203.9,768.6 2208.5,778.5C2213.1,788.4 2220.2,803.5 2225.4,815.6C2230.6,827.7 2235.3,839.3 2239.6,851.2C2243.9,863.1 2247.8,875.0 2251.2,886.9C2254.6,898.8 2257.3,910.6 2260.1,922.5C2262.9,934.4 2265.6,946.2 2268.1,958.1C2270.6,970.0 2272.9,981.8 2275.2,993.7C2277.5,1005.6 2279.8,1017.4 2282.0,1029.3C2284.2,1041.2 2286.2,1053.2 2288.2,1065.0C2290.2,1076.8 2292.0,1088.0 2293.9,1100.0C2295.8,1112.0 2297.7,1124.5 2299.5,1137.0C2301.3,1149.5 2303.2,1162.5 2304.8,1175.0C2306.4,1187.5 2307.5,1198.6 2308.8,1212.0C2310.2,1225.4 2312.2,1248.2 2312.9,1255.5" fill="none" stroke="#fff" stroke-width="26.5"/>
<path d="M2141.0,694.0C2143.5,695.9 2150.8,701.1 2156.0,705.5C2161.2,709.9 2166.8,715.1 2172.0,720.5C2177.2,725.9 2182.6,731.9 2186.9,737.8C2191.2,743.7 2194.4,749.2 2198.0,756.0C2201.6,762.8 2203.9,768.6 2208.5,778.5C2213.1,788.4 2220.2,803.5 2225.4,815.6C2230.6,827.7 2235.3,839.3 2239.6,851.2C2243.9,863.1 2247.8,875.0 2251.2,886.9C2254.6,898.8 2257.3,910.6 2260.1,922.5C2262.9,934.4 2265.6,946.2 2268.1,958.1C2270.6,970.0 2272.9,981.8 2275.2,993.7C2277.5,1005.6 2279.8,1017.4 2282.0,1029.3C2284.2,1041.2 2286.2,1053.2 2288.2,1065.0C2290.2,1076.8 2292.0,1088.0 2293.9,1100.0C2295.8,1112.0 2297.7,1124.5 2299.5,1137.0C2301.3,1149.5 2303.2,1162.5 2304.8,1175.0C2306.4,1187.5 2307.6,1199.7 2308.8,1212.0C2310.1,1224.3 2311.7,1242.8 2312.3,1249.0" fill="none" stroke="#f04736" stroke-width="18"/>
<polygon points="2124.1,681.3 2165.3,681.3 2197.1,688.9 2193.7,705.8 2162.9,699.2 2157.5,703.6 2149.2,710.9 2157.0,742.3 2140.1,746.8" fill="#f04736"/>
<text transform="translate(1008.98,106.50) scale(1.0085,1.0000)" font-size="94.6" fill="#000" xml:space="preserve">Time since Big Bang [Gyrs]</text>
<text transform="translate(491.24,247.00) scale(0.9698,1.0000)" font-size="95.4" fill="#000" xml:space="preserve">14</text>
<text transform="translate(630.19,247.00) scale(0.9762,1.0000)" font-size="95.4" fill="#000" xml:space="preserve">13</text>
<text transform="translate(757.21,247.00) scale(1.0110,1.0000)" font-size="95.4" fill="#000" xml:space="preserve">12</text>
<text transform="translate(887.56,247.00) scale(0.9295,1.0000)" font-size="95.4" fill="#000" xml:space="preserve">11</text>
<text transform="translate(1023.82,247.00) scale(0.9845,1.0000)" font-size="95.4" fill="#000" xml:space="preserve">10</text>
<text transform="translate(1174.79,247.00) scale(0.9707,1.0000)" font-size="95.4" fill="#000" xml:space="preserve">9</text>
<text transform="translate(1297.63,247.00) scale(1.0175,1.0000)" font-size="95.4" fill="#000" xml:space="preserve">8</text>
<text transform="translate(1434.98,247.00) scale(1.1026,1.0000)" font-size="95.4" fill="#000" xml:space="preserve">7</text>
<text transform="translate(1564.41,247.00) scale(0.9463,1.0000)" font-size="95.4" fill="#000" xml:space="preserve">6</text>
<text transform="translate(1689.37,247.00) scale(1.0053,1.0000)" font-size="95.4" fill="#000" xml:space="preserve">5</text>
<text transform="translate(1830.55,247.00) scale(0.9750,1.0000)" font-size="95.4" fill="#000" xml:space="preserve">4</text>
<text transform="translate(1954.48,247.00) scale(1.0436,1.0000)" font-size="95.4" fill="#000" xml:space="preserve">3</text>
<text transform="translate(2084.15,247.00) scale(1.0868,1.0000)" font-size="95.4" fill="#000" xml:space="preserve">2</text>
<text transform="translate(2223.54,247.00) scale(0.9324,1.0000)" font-size="95.4" fill="#000" xml:space="preserve">1</text>
<text transform="translate(2352.38,247.00) scale(0.9550,1.0000)" font-size="95.4" fill="#000" xml:space="preserve">0</text>
<text transform="translate(592.31,1960.30) scale(1.0231,1.0000)" font-size="94" fill="#000" xml:space="preserve">0</text>
<text transform="translate(1222.97,1960.30) scale(0.9582,1.0000)" font-size="94" fill="#000" xml:space="preserve">0.5</text>
<text transform="translate(1603.17,1960.30) scale(0.9667,1.0000)" font-size="94" fill="#000" xml:space="preserve">1</text>
<text transform="translate(1930.71,1960.30) scale(1.0737,1.0000)" font-size="94" fill="#000" xml:space="preserve">2</text>
<text transform="translate(2155.08,1960.30) scale(0.9614,1.0000)" font-size="94" fill="#000" xml:space="preserve">4</text>
<text transform="translate(2273.84,1960.30) scale(1.0410,1.0000)" font-size="94" fill="#000" xml:space="preserve">8</text>
<text transform="translate(332.11,429.20) scale(0.9648,1.0000)" font-size="93.8" fill="#000" xml:space="preserve">-0.5</text>
<text transform="translate(332.11,654.35) scale(0.9648,1.0000)" font-size="93.8" fill="#000" xml:space="preserve">-1.0</text>
<text transform="translate(332.11,879.50) scale(0.9648,1.0000)" font-size="93.8" fill="#000" xml:space="preserve">-1.5</text>
<text transform="translate(332.11,1104.65) scale(0.9648,1.0000)" font-size="93.8" fill="#000" xml:space="preserve">-2.0</text>
<text transform="translate(332.11,1329.80) scale(0.9648,1.0000)" font-size="93.8" fill="#000" xml:space="preserve">-2.5</text>
<text transform="translate(332.11,1554.95) scale(0.9648,1.0000)" font-size="93.8" fill="#000" xml:space="preserve">-3.0</text>
<text transform="translate(332.11,1780.10) scale(0.9648,1.0000)" font-size="93.8" fill="#000" xml:space="preserve">-3.5</text>
<text transform="translate(1302.94,2099.40) scale(1.0524,1.0000)" font-size="93.9" fill="#000" xml:space="preserve">Redshift</text>
<text transform="translate(665.72,498.50) scale(1.0204,1.0000)" font-size="93" fill="#5f5f5f" font-style="italic" xml:space="preserve">Mature</text>
<text transform="translate(962.79,498.50) scale(0.9629,1.0000)" font-size="93" fill="#5f5f5f" font-style="italic" xml:space="preserve">Galaxy</text>
<text transform="translate(768.39,617.50) scale(0.9872,1.0000)" font-size="93" fill="#5f5f5f" font-style="italic" xml:space="preserve">Evolution</text>
<text transform="translate(2341.50,920.09) rotate(-90) scale(0.9067,1.0000)" font-size="71" fill="#5f5f5f" font-style="italic" xml:space="preserve">Epoch</text>
<text transform="translate(2341.50,741.21) rotate(-90) scale(0.9541,1.0000)" font-size="71" fill="#5f5f5f" font-style="italic" xml:space="preserve">of</text>
<text transform="translate(2341.50,674.00) rotate(-90) scale(0.9607,1.0000)" font-size="71" fill="#5f5f5f" font-style="italic" xml:space="preserve">Reionization</text>
<text transform="translate(2050.80,1486.98) rotate(-90) scale(0.9831,1.0000)" font-size="92.5" fill="#eb1c0b" font-weight="bold" xml:space="preserve">ALPINE</text>
<text transform="translate(2148.70,1611.79) rotate(-90) scale(0.9297,1.0000)" font-size="72" fill="#eb1c0b" font-style="italic" xml:space="preserve">(Early Growth Phase)</text>
<text transform="translate(99.80,1478.77) rotate(-90) scale(0.9936,1.0000)" font-size="99" fill="#000" xml:space="preserve">Cosmic</text>
<text transform="translate(99.80,1160.48) rotate(-90) scale(0.9402,1.0000)" font-size="99" fill="#000" xml:space="preserve">SFR</text>
<text transform="translate(99.80,976.78) rotate(-90) scale(1.0199,1.0000)" font-size="99" fill="#000" xml:space="preserve">density</text>
<text transform="translate(224.36,1464.13) rotate(-90) scale(0.9045,1.0646)" font-size="99" fill="#000" xml:space="preserve">[</text>
<text transform="translate(222.00,1433.04) rotate(-90) scale(1.0211,1.0000)" font-size="99" fill="#000" xml:space="preserve">log</text>
<text transform="translate(222.00,1282.29) rotate(-90) scale(1.0305,1.0000)" font-size="99" fill="#000" xml:space="preserve">M</text>
<text transform="translate(229.80,1191.55) rotate(-90) scale(1.1700,1.1967)" font-size="48" fill="#000" xml:space="preserve">⊙</text>
<text transform="translate(231.62,1131.90) rotate(-90) scale(1.1370,1.2758)" font-size="99" fill="#000" xml:space="preserve">/</text>
<text transform="translate(222.00,1089.37) rotate(-90) scale(1.0654,1.0000)" font-size="99" fill="#000" xml:space="preserve">yr</text>
<text transform="translate(231.62,986.90) rotate(-90) scale(1.1556,1.2758)" font-size="99" fill="#000" xml:space="preserve">/</text>
<text transform="translate(222.00,943.53) rotate(-90) scale(1.0423,1.0000)" font-size="99" fill="#000" xml:space="preserve">Mpc</text>
<text transform="translate(201.00,757.74) rotate(-90) scale(0.9815,1.0163)" font-size="64.6" fill="#000" xml:space="preserve">3</text>
<text transform="translate(224.00,725.70) rotate(-90) scale(0.9000,1.0463)" font-size="99" fill="#000" xml:space="preserve">]</text>
</svg></body></html>
